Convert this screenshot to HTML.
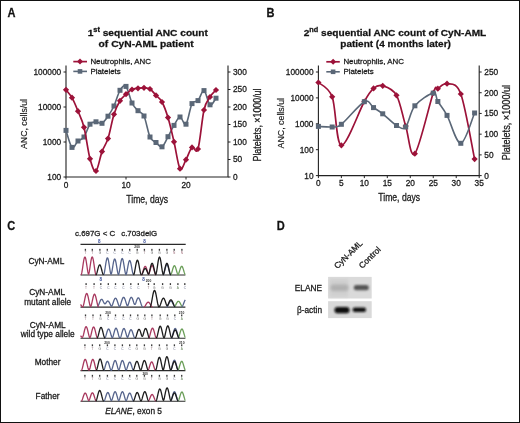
<!DOCTYPE html>
<html><head><meta charset="utf-8"><style>
html,body{margin:0;padding:0;background:#fff;}
body{width:520px;height:423px;overflow:hidden;position:relative;}
svg{position:absolute;left:0;top:0;font-family:"Liberation Sans", sans-serif;will-change:transform;}
.t{stroke:#1a1a1a;stroke-width:0.28px;}
.frame{position:absolute;left:0;top:0;width:518px;height:421px;border:1px solid #111;}
</style></head><body>
<svg width="520" height="423" viewBox="0 0 520 423">
<text class="t" transform="translate(7.4,17.4) scale(0.9,1)" font-size="12.3" font-weight="bold" fill="#111">A</text>
<text class="t" x="147.8" y="36.1" font-size="9.7" font-weight="bold" text-anchor="middle" fill="#111" textLength="120.2" lengthAdjust="spacingAndGlyphs">1<tspan font-size="7" dy="-4.1">st</tspan><tspan dy="4.1"> sequential ANC count</tspan></text>
<text class="t" x="146.1" y="47.2" font-size="9.7" font-weight="bold" text-anchor="middle" fill="#111" textLength="95" lengthAdjust="spacingAndGlyphs">of CyN-AML patient</text>
<path d="M66.0,65.5 V177.0 H228.0 V65.5" fill="none" stroke="#222" stroke-width="1.1"/>
<line x1="63.5" y1="72.00" x2="66.0" y2="72.00" stroke="#222" stroke-width="1"/>
<text x="61.20" y="74.90" font-size="8.30" text-anchor="end" font-weight="normal" fill="#1a1a1a" stroke="#1a1a1a" stroke-width="0.28" >100000</text>
<line x1="63.5" y1="107.00" x2="66.0" y2="107.00" stroke="#222" stroke-width="1"/>
<text x="61.20" y="109.90" font-size="8.30" text-anchor="end" font-weight="normal" fill="#1a1a1a" stroke="#1a1a1a" stroke-width="0.28" >10000</text>
<line x1="63.5" y1="142.00" x2="66.0" y2="142.00" stroke="#222" stroke-width="1"/>
<text x="61.20" y="144.90" font-size="8.30" text-anchor="end" font-weight="normal" fill="#1a1a1a" stroke="#1a1a1a" stroke-width="0.28" >1000</text>
<line x1="63.5" y1="177.00" x2="66.0" y2="177.00" stroke="#222" stroke-width="1"/>
<text x="61.20" y="179.90" font-size="8.30" text-anchor="end" font-weight="normal" fill="#1a1a1a" stroke="#1a1a1a" stroke-width="0.28" >100</text>
<line x1="228.0" y1="72.00" x2="230.5" y2="72.00" stroke="#222" stroke-width="1"/>
<text x="233.00" y="74.90" font-size="8.30" text-anchor="start" font-weight="normal" fill="#1a1a1a" stroke="#1a1a1a" stroke-width="0.28" >300</text>
<line x1="228.0" y1="89.50" x2="230.5" y2="89.50" stroke="#222" stroke-width="1"/>
<text x="233.00" y="92.40" font-size="8.30" text-anchor="start" font-weight="normal" fill="#1a1a1a" stroke="#1a1a1a" stroke-width="0.28" >250</text>
<line x1="228.0" y1="107.00" x2="230.5" y2="107.00" stroke="#222" stroke-width="1"/>
<text x="233.00" y="109.90" font-size="8.30" text-anchor="start" font-weight="normal" fill="#1a1a1a" stroke="#1a1a1a" stroke-width="0.28" >200</text>
<line x1="228.0" y1="124.50" x2="230.5" y2="124.50" stroke="#222" stroke-width="1"/>
<text x="233.00" y="127.40" font-size="8.30" text-anchor="start" font-weight="normal" fill="#1a1a1a" stroke="#1a1a1a" stroke-width="0.28" >150</text>
<line x1="228.0" y1="142.00" x2="230.5" y2="142.00" stroke="#222" stroke-width="1"/>
<text x="233.00" y="144.90" font-size="8.30" text-anchor="start" font-weight="normal" fill="#1a1a1a" stroke="#1a1a1a" stroke-width="0.28" >100</text>
<line x1="228.0" y1="159.50" x2="230.5" y2="159.50" stroke="#222" stroke-width="1"/>
<text x="233.00" y="162.40" font-size="8.30" text-anchor="start" font-weight="normal" fill="#1a1a1a" stroke="#1a1a1a" stroke-width="0.28" >50</text>
<line x1="228.0" y1="177.00" x2="230.5" y2="177.00" stroke="#222" stroke-width="1"/>
<text x="233.00" y="179.90" font-size="8.30" text-anchor="start" font-weight="normal" fill="#1a1a1a" stroke="#1a1a1a" stroke-width="0.28" >0</text>
<line x1="66.00" y1="177.0" x2="66.00" y2="179.5" stroke="#222" stroke-width="1"/>
<text x="66.00" y="188.20" font-size="8.30" text-anchor="middle" font-weight="normal" fill="#1a1a1a" stroke="#1a1a1a" stroke-width="0.28" >0</text>
<line x1="126.00" y1="177.0" x2="126.00" y2="179.5" stroke="#222" stroke-width="1"/>
<text x="126.00" y="188.20" font-size="8.30" text-anchor="middle" font-weight="normal" fill="#1a1a1a" stroke="#1a1a1a" stroke-width="0.28" >10</text>
<line x1="186.00" y1="177.0" x2="186.00" y2="179.5" stroke="#222" stroke-width="1"/>
<text x="186.00" y="188.20" font-size="8.30" text-anchor="middle" font-weight="normal" fill="#1a1a1a" stroke="#1a1a1a" stroke-width="0.28" >20</text>
<text class="t" x="147.2" y="202.7" font-size="10" text-anchor="middle" fill="#1a1a1a" textLength="41.8" lengthAdjust="spacingAndGlyphs">Time, days</text>
<text class="t" transform="translate(27.4,124.0) rotate(-90)" font-size="9.8" text-anchor="middle" fill="#1a1a1a" style="stroke-width:0.18px" textLength="50" lengthAdjust="spacingAndGlyphs">ANC, cells/ul</text>
<text class="t" transform="translate(260.8,125.0) rotate(-90)" font-size="10" text-anchor="middle" fill="#1a1a1a" textLength="73" lengthAdjust="spacingAndGlyphs">Platelets, ×1000/ul</text>
<path d="M66.00,130.40 C67.00,133.23 70.00,145.63 72.00,147.40 C74.00,149.17 76.00,142.73 78.00,141.00 C80.00,139.27 82.00,139.80 84.00,137.00 C86.00,134.20 88.00,126.73 90.00,124.20 C92.00,121.67 94.00,121.95 96.00,121.80 C98.00,121.65 100.00,124.23 102.00,123.30 C104.00,122.37 106.00,119.08 108.00,116.20 C110.00,113.32 112.00,110.32 114.00,106.00 C116.00,101.68 118.00,93.57 120.00,90.30 C122.00,87.03 124.00,84.28 126.00,86.40 C128.00,88.52 130.00,98.95 132.00,103.00 C134.00,107.05 136.00,108.53 138.00,110.70 C140.00,112.87 142.00,111.62 144.00,116.00 C146.00,120.38 148.00,132.58 150.00,137.00 C152.00,141.42 154.00,140.87 156.00,142.50 C158.00,144.13 160.00,147.77 162.00,146.80 C164.00,145.83 166.00,140.27 168.00,136.70 C170.00,133.13 172.00,128.68 174.00,125.40 C176.00,122.12 178.00,117.20 180.00,117.00 C182.00,116.80 184.00,126.43 186.00,124.20 C188.00,121.97 190.00,107.53 192.00,103.60 C194.00,99.67 196.00,102.77 198.00,100.60 C200.00,98.43 202.00,89.90 204.00,90.60 C206.00,91.30 208.00,103.53 210.00,104.80 C212.00,106.07 215.00,99.30 216.00,98.20" fill="none" stroke="#5a6777" stroke-width="1.6"/>
<rect x="63.50" y="127.90" width="5.00" height="5.00" fill="#5a6777"/>
<rect x="69.50" y="144.90" width="5.00" height="5.00" fill="#5a6777"/>
<rect x="75.50" y="138.50" width="5.00" height="5.00" fill="#5a6777"/>
<rect x="81.50" y="134.50" width="5.00" height="5.00" fill="#5a6777"/>
<rect x="87.50" y="121.70" width="5.00" height="5.00" fill="#5a6777"/>
<rect x="93.50" y="119.30" width="5.00" height="5.00" fill="#5a6777"/>
<rect x="99.50" y="120.80" width="5.00" height="5.00" fill="#5a6777"/>
<rect x="105.50" y="113.70" width="5.00" height="5.00" fill="#5a6777"/>
<rect x="111.50" y="103.50" width="5.00" height="5.00" fill="#5a6777"/>
<rect x="117.50" y="87.80" width="5.00" height="5.00" fill="#5a6777"/>
<rect x="123.50" y="83.90" width="5.00" height="5.00" fill="#5a6777"/>
<rect x="129.50" y="100.50" width="5.00" height="5.00" fill="#5a6777"/>
<rect x="135.50" y="108.20" width="5.00" height="5.00" fill="#5a6777"/>
<rect x="141.50" y="113.50" width="5.00" height="5.00" fill="#5a6777"/>
<rect x="147.50" y="134.50" width="5.00" height="5.00" fill="#5a6777"/>
<rect x="153.50" y="140.00" width="5.00" height="5.00" fill="#5a6777"/>
<rect x="159.50" y="144.30" width="5.00" height="5.00" fill="#5a6777"/>
<rect x="165.50" y="134.20" width="5.00" height="5.00" fill="#5a6777"/>
<rect x="171.50" y="122.90" width="5.00" height="5.00" fill="#5a6777"/>
<rect x="177.50" y="114.50" width="5.00" height="5.00" fill="#5a6777"/>
<rect x="183.50" y="121.70" width="5.00" height="5.00" fill="#5a6777"/>
<rect x="189.50" y="101.10" width="5.00" height="5.00" fill="#5a6777"/>
<rect x="195.50" y="98.10" width="5.00" height="5.00" fill="#5a6777"/>
<rect x="201.50" y="88.10" width="5.00" height="5.00" fill="#5a6777"/>
<rect x="207.50" y="102.30" width="5.00" height="5.00" fill="#5a6777"/>
<rect x="213.50" y="95.70" width="5.00" height="5.00" fill="#5a6777"/>
<path d="M66.00,89.80 C67.00,91.12 70.00,94.13 72.00,97.70 C74.00,101.27 76.00,106.27 78.00,111.20 C80.00,116.13 82.00,119.37 84.00,127.30 C86.00,135.23 88.00,151.52 90.00,158.80 C92.00,166.08 94.00,172.20 96.00,171.00 C98.00,169.80 100.00,157.00 102.00,151.60 C104.00,146.20 106.00,144.82 108.00,138.60 C110.00,132.38 112.00,120.60 114.00,114.30 C116.00,108.00 118.00,104.15 120.00,100.80 C122.00,97.45 124.00,96.08 126.00,94.20 C128.00,92.32 130.00,90.48 132.00,89.50 C134.00,88.52 136.00,88.58 138.00,88.30 C140.00,88.02 142.00,87.68 144.00,87.80 C146.00,87.92 148.00,87.73 150.00,89.00 C152.00,90.27 154.00,93.23 156.00,95.40 C158.00,97.57 160.00,98.30 162.00,102.00 C164.00,105.70 166.00,110.97 168.00,117.60 C170.00,124.23 172.00,133.28 174.00,141.80 C176.00,150.32 178.00,165.72 180.00,168.70 C182.00,171.68 184.00,163.25 186.00,159.70 C188.00,156.15 190.00,149.18 192.00,147.40 C194.00,145.62 196.00,155.23 198.00,149.00 C200.00,142.77 202.00,118.67 204.00,110.00 C206.00,101.33 208.00,100.33 210.00,97.00 C212.00,93.67 215.00,91.17 216.00,90.00" fill="none" stroke="#9c1239" stroke-width="1.7"/>
<path d="M66.00,86.70 L69.10,89.80 L66.00,92.90 L62.90,89.80 Z" fill="#9c1239"/>
<path d="M72.00,94.60 L75.10,97.70 L72.00,100.80 L68.90,97.70 Z" fill="#9c1239"/>
<path d="M78.00,108.10 L81.10,111.20 L78.00,114.30 L74.90,111.20 Z" fill="#9c1239"/>
<path d="M84.00,124.20 L87.10,127.30 L84.00,130.40 L80.90,127.30 Z" fill="#9c1239"/>
<path d="M90.00,155.70 L93.10,158.80 L90.00,161.90 L86.90,158.80 Z" fill="#9c1239"/>
<path d="M96.00,167.90 L99.10,171.00 L96.00,174.10 L92.90,171.00 Z" fill="#9c1239"/>
<path d="M102.00,148.50 L105.10,151.60 L102.00,154.70 L98.90,151.60 Z" fill="#9c1239"/>
<path d="M108.00,135.50 L111.10,138.60 L108.00,141.70 L104.90,138.60 Z" fill="#9c1239"/>
<path d="M114.00,111.20 L117.10,114.30 L114.00,117.40 L110.90,114.30 Z" fill="#9c1239"/>
<path d="M120.00,97.70 L123.10,100.80 L120.00,103.90 L116.90,100.80 Z" fill="#9c1239"/>
<path d="M126.00,91.10 L129.10,94.20 L126.00,97.30 L122.90,94.20 Z" fill="#9c1239"/>
<path d="M132.00,86.40 L135.10,89.50 L132.00,92.60 L128.90,89.50 Z" fill="#9c1239"/>
<path d="M138.00,85.20 L141.10,88.30 L138.00,91.40 L134.90,88.30 Z" fill="#9c1239"/>
<path d="M144.00,84.70 L147.10,87.80 L144.00,90.90 L140.90,87.80 Z" fill="#9c1239"/>
<path d="M150.00,85.90 L153.10,89.00 L150.00,92.10 L146.90,89.00 Z" fill="#9c1239"/>
<path d="M156.00,92.30 L159.10,95.40 L156.00,98.50 L152.90,95.40 Z" fill="#9c1239"/>
<path d="M162.00,98.90 L165.10,102.00 L162.00,105.10 L158.90,102.00 Z" fill="#9c1239"/>
<path d="M168.00,114.50 L171.10,117.60 L168.00,120.70 L164.90,117.60 Z" fill="#9c1239"/>
<path d="M174.00,138.70 L177.10,141.80 L174.00,144.90 L170.90,141.80 Z" fill="#9c1239"/>
<path d="M180.00,165.60 L183.10,168.70 L180.00,171.80 L176.90,168.70 Z" fill="#9c1239"/>
<path d="M186.00,156.60 L189.10,159.70 L186.00,162.80 L182.90,159.70 Z" fill="#9c1239"/>
<path d="M192.00,144.30 L195.10,147.40 L192.00,150.50 L188.90,147.40 Z" fill="#9c1239"/>
<path d="M198.00,145.90 L201.10,149.00 L198.00,152.10 L194.90,149.00 Z" fill="#9c1239"/>
<path d="M204.00,106.90 L207.10,110.00 L204.00,113.10 L200.90,110.00 Z" fill="#9c1239"/>
<path d="M210.00,93.90 L213.10,97.00 L210.00,100.10 L206.90,97.00 Z" fill="#9c1239"/>
<path d="M216.00,86.90 L219.10,90.00 L216.00,93.10 L212.90,90.00 Z" fill="#9c1239"/>
<line x1="73.3" y1="61.6" x2="87" y2="61.6" stroke="#9c1239" stroke-width="1.7"/>
<path d="M80.00,58.60 L83.00,61.60 L80.00,64.60 L77.00,61.60 Z" fill="#9c1239"/>
<text x="90.40" y="64.20" font-size="7.90" text-anchor="start" font-weight="normal" fill="#1a1a1a" stroke="#1a1a1a" stroke-width="0.28" >Neutrophils, ANC</text>
<line x1="73.3" y1="71.4" x2="87" y2="71.4" stroke="#5a6777" stroke-width="1.6"/>
<rect x="77.70" y="69.10" width="4.60" height="4.60" fill="#5a6777"/>
<text x="90.40" y="74.00" font-size="7.90" text-anchor="start" font-weight="normal" fill="#1a1a1a" stroke="#1a1a1a" stroke-width="0.28" >Platelets</text>
<text class="t" transform="translate(266.5,17.4) scale(0.9,1)" font-size="12.3" font-weight="bold" fill="#111">B</text>
<text class="t" x="395" y="36.1" font-size="9.7" font-weight="bold" text-anchor="middle" fill="#111" textLength="182.6" lengthAdjust="spacingAndGlyphs">2<tspan font-size="7" dy="-4.1">nd</tspan><tspan dy="4.1"> sequential ANC count of CyN-AML</tspan></text>
<text class="t" x="395.6" y="47.2" font-size="9.7" font-weight="bold" text-anchor="middle" fill="#111" textLength="110.6" lengthAdjust="spacingAndGlyphs">patient (4 months later)</text>
<path d="M318.4,65.5 V175.6 H479.2 V65.5" fill="none" stroke="#222" stroke-width="1.1"/>
<line x1="315.9" y1="72.00" x2="318.4" y2="72.00" stroke="#222" stroke-width="1"/>
<text x="313.50" y="74.90" font-size="8.30" text-anchor="end" font-weight="normal" fill="#1a1a1a" stroke="#1a1a1a" stroke-width="0.28" >100000</text>
<line x1="315.9" y1="97.90" x2="318.4" y2="97.90" stroke="#222" stroke-width="1"/>
<text x="313.50" y="100.80" font-size="8.30" text-anchor="end" font-weight="normal" fill="#1a1a1a" stroke="#1a1a1a" stroke-width="0.28" >10000</text>
<line x1="315.9" y1="123.80" x2="318.4" y2="123.80" stroke="#222" stroke-width="1"/>
<text x="313.50" y="126.70" font-size="8.30" text-anchor="end" font-weight="normal" fill="#1a1a1a" stroke="#1a1a1a" stroke-width="0.28" >1000</text>
<line x1="315.9" y1="149.70" x2="318.4" y2="149.70" stroke="#222" stroke-width="1"/>
<text x="313.50" y="152.60" font-size="8.30" text-anchor="end" font-weight="normal" fill="#1a1a1a" stroke="#1a1a1a" stroke-width="0.28" >100</text>
<line x1="315.9" y1="175.60" x2="318.4" y2="175.60" stroke="#222" stroke-width="1"/>
<text x="313.50" y="178.50" font-size="8.30" text-anchor="end" font-weight="normal" fill="#1a1a1a" stroke="#1a1a1a" stroke-width="0.28" >10</text>
<line x1="479.2" y1="72.00" x2="481.7" y2="72.00" stroke="#222" stroke-width="1"/>
<text x="484.30" y="74.90" font-size="8.30" text-anchor="start" font-weight="normal" fill="#1a1a1a" stroke="#1a1a1a" stroke-width="0.28" >250</text>
<line x1="479.2" y1="92.72" x2="481.7" y2="92.72" stroke="#222" stroke-width="1"/>
<text x="484.30" y="95.62" font-size="8.30" text-anchor="start" font-weight="normal" fill="#1a1a1a" stroke="#1a1a1a" stroke-width="0.28" >200</text>
<line x1="479.2" y1="113.44" x2="481.7" y2="113.44" stroke="#222" stroke-width="1"/>
<text x="484.30" y="116.34" font-size="8.30" text-anchor="start" font-weight="normal" fill="#1a1a1a" stroke="#1a1a1a" stroke-width="0.28" >150</text>
<line x1="479.2" y1="134.16" x2="481.7" y2="134.16" stroke="#222" stroke-width="1"/>
<text x="484.30" y="137.06" font-size="8.30" text-anchor="start" font-weight="normal" fill="#1a1a1a" stroke="#1a1a1a" stroke-width="0.28" >100</text>
<line x1="479.2" y1="154.88" x2="481.7" y2="154.88" stroke="#222" stroke-width="1"/>
<text x="484.30" y="157.78" font-size="8.30" text-anchor="start" font-weight="normal" fill="#1a1a1a" stroke="#1a1a1a" stroke-width="0.28" >50</text>
<line x1="479.2" y1="175.60" x2="481.7" y2="175.60" stroke="#222" stroke-width="1"/>
<text x="484.30" y="178.50" font-size="8.30" text-anchor="start" font-weight="normal" fill="#1a1a1a" stroke="#1a1a1a" stroke-width="0.28" >0</text>
<line x1="318.40" y1="175.6" x2="318.40" y2="178.1" stroke="#222" stroke-width="1"/>
<text x="318.40" y="186.40" font-size="8.30" text-anchor="middle" font-weight="normal" fill="#1a1a1a" stroke="#1a1a1a" stroke-width="0.28" >0</text>
<line x1="341.37" y1="175.6" x2="341.37" y2="178.1" stroke="#222" stroke-width="1"/>
<text x="341.37" y="186.40" font-size="8.30" text-anchor="middle" font-weight="normal" fill="#1a1a1a" stroke="#1a1a1a" stroke-width="0.28" >5</text>
<line x1="364.34" y1="175.6" x2="364.34" y2="178.1" stroke="#222" stroke-width="1"/>
<text x="364.34" y="186.40" font-size="8.30" text-anchor="middle" font-weight="normal" fill="#1a1a1a" stroke="#1a1a1a" stroke-width="0.28" >10</text>
<line x1="387.31" y1="175.6" x2="387.31" y2="178.1" stroke="#222" stroke-width="1"/>
<text x="387.31" y="186.40" font-size="8.30" text-anchor="middle" font-weight="normal" fill="#1a1a1a" stroke="#1a1a1a" stroke-width="0.28" >15</text>
<line x1="410.28" y1="175.6" x2="410.28" y2="178.1" stroke="#222" stroke-width="1"/>
<text x="410.28" y="186.40" font-size="8.30" text-anchor="middle" font-weight="normal" fill="#1a1a1a" stroke="#1a1a1a" stroke-width="0.28" >20</text>
<line x1="433.25" y1="175.6" x2="433.25" y2="178.1" stroke="#222" stroke-width="1"/>
<text x="433.25" y="186.40" font-size="8.30" text-anchor="middle" font-weight="normal" fill="#1a1a1a" stroke="#1a1a1a" stroke-width="0.28" >25</text>
<line x1="456.22" y1="175.6" x2="456.22" y2="178.1" stroke="#222" stroke-width="1"/>
<text x="456.22" y="186.40" font-size="8.30" text-anchor="middle" font-weight="normal" fill="#1a1a1a" stroke="#1a1a1a" stroke-width="0.28" >30</text>
<line x1="479.19" y1="175.6" x2="479.19" y2="178.1" stroke="#222" stroke-width="1"/>
<text x="479.19" y="186.40" font-size="8.30" text-anchor="middle" font-weight="normal" fill="#1a1a1a" stroke="#1a1a1a" stroke-width="0.28" >35</text>
<text class="t" x="399.2" y="200.7" font-size="10" text-anchor="middle" fill="#1a1a1a" textLength="41.8" lengthAdjust="spacingAndGlyphs">Time, days</text>
<text class="t" transform="translate(283.9,123.2) rotate(-90)" font-size="9.8" text-anchor="middle" fill="#1a1a1a" style="stroke-width:0.18px" textLength="50.5" lengthAdjust="spacingAndGlyphs">ANC, cells/ul</text>
<text class="t" transform="translate(509.8,122.6) rotate(-90)" font-size="10" text-anchor="middle" fill="#1a1a1a" textLength="75.5" lengthAdjust="spacingAndGlyphs">Platelets, ×1000/ul</text>
<path d="M318.40,82.50 C320.70,84.88 328.35,86.33 332.18,96.80 C336.01,107.27 336.01,144.52 341.37,145.30 C346.73,146.08 358.98,110.98 364.34,101.50 C369.70,92.02 370.47,91.02 373.53,88.40 C376.59,85.78 378.89,84.65 382.72,85.80 C386.54,86.95 392.67,88.60 396.50,95.30 C400.33,102.00 402.62,116.27 405.69,126.00 C408.75,135.73 410.28,159.20 414.87,153.70 C419.47,148.20 429.42,103.83 433.25,93.00 C437.08,82.17 435.55,90.25 437.84,88.70 C440.14,87.15 443.20,82.82 447.03,83.70 C450.86,84.58 456.22,81.43 460.81,94.00 C465.41,106.57 472.30,148.25 474.60,159.10" fill="none" stroke="#9c1239" stroke-width="1.7"/>
<path d="M318.40,79.40 L321.50,82.50 L318.40,85.60 L315.30,82.50 Z" fill="#9c1239"/>
<path d="M332.18,93.70 L335.28,96.80 L332.18,99.90 L329.08,96.80 Z" fill="#9c1239"/>
<path d="M341.37,142.20 L344.47,145.30 L341.37,148.40 L338.27,145.30 Z" fill="#9c1239"/>
<path d="M364.34,98.40 L367.44,101.50 L364.34,104.60 L361.24,101.50 Z" fill="#9c1239"/>
<path d="M373.53,85.30 L376.63,88.40 L373.53,91.50 L370.43,88.40 Z" fill="#9c1239"/>
<path d="M382.72,82.70 L385.82,85.80 L382.72,88.90 L379.62,85.80 Z" fill="#9c1239"/>
<path d="M396.50,92.20 L399.60,95.30 L396.50,98.40 L393.40,95.30 Z" fill="#9c1239"/>
<path d="M405.69,122.90 L408.79,126.00 L405.69,129.10 L402.59,126.00 Z" fill="#9c1239"/>
<path d="M414.87,150.60 L417.97,153.70 L414.87,156.80 L411.77,153.70 Z" fill="#9c1239"/>
<path d="M433.25,89.90 L436.35,93.00 L433.25,96.10 L430.15,93.00 Z" fill="#9c1239"/>
<path d="M437.84,85.60 L440.94,88.70 L437.84,91.80 L434.74,88.70 Z" fill="#9c1239"/>
<path d="M447.03,80.60 L450.13,83.70 L447.03,86.80 L443.93,83.70 Z" fill="#9c1239"/>
<path d="M460.81,90.90 L463.91,94.00 L460.81,97.10 L457.71,94.00 Z" fill="#9c1239"/>
<path d="M474.60,156.00 L477.70,159.10 L474.60,162.20 L471.50,159.10 Z" fill="#9c1239"/>
<path d="M318.40,126.40 C320.70,126.50 328.35,127.35 332.18,127.00 C336.01,126.65 336.01,128.52 341.37,124.30 C346.73,120.08 358.98,104.48 364.34,101.70 C369.70,98.92 370.47,105.58 373.53,107.60 C376.59,109.62 378.89,110.82 382.72,113.80 C386.54,116.78 392.67,123.30 396.50,125.50 C400.33,127.70 402.62,130.28 405.69,127.00 C408.75,123.72 410.28,111.45 414.87,105.80 C419.47,100.15 429.42,93.82 433.25,93.10 C437.08,92.38 435.55,97.78 437.84,101.50 C440.14,105.22 443.20,108.43 447.03,115.40 C450.86,122.37 456.22,143.70 460.81,143.30 C465.41,142.90 472.30,118.05 474.60,113.00" fill="none" stroke="#5a6777" stroke-width="1.6"/>
<rect x="315.90" y="123.90" width="5.00" height="5.00" fill="#5a6777"/>
<rect x="329.68" y="124.50" width="5.00" height="5.00" fill="#5a6777"/>
<rect x="338.87" y="121.80" width="5.00" height="5.00" fill="#5a6777"/>
<rect x="361.84" y="99.20" width="5.00" height="5.00" fill="#5a6777"/>
<rect x="371.03" y="105.10" width="5.00" height="5.00" fill="#5a6777"/>
<rect x="380.22" y="111.30" width="5.00" height="5.00" fill="#5a6777"/>
<rect x="394.00" y="123.00" width="5.00" height="5.00" fill="#5a6777"/>
<rect x="403.19" y="124.50" width="5.00" height="5.00" fill="#5a6777"/>
<rect x="412.37" y="103.30" width="5.00" height="5.00" fill="#5a6777"/>
<rect x="430.75" y="90.60" width="5.00" height="5.00" fill="#5a6777"/>
<rect x="435.34" y="99.00" width="5.00" height="5.00" fill="#5a6777"/>
<rect x="444.53" y="112.90" width="5.00" height="5.00" fill="#5a6777"/>
<rect x="458.31" y="140.80" width="5.00" height="5.00" fill="#5a6777"/>
<rect x="472.10" y="110.50" width="5.00" height="5.00" fill="#5a6777"/>
<line x1="326.3" y1="61.8" x2="339.8" y2="61.8" stroke="#9c1239" stroke-width="1.7"/>
<path d="M333.10,58.80 L336.10,61.80 L333.10,64.80 L330.10,61.80 Z" fill="#9c1239"/>
<text x="343.40" y="64.40" font-size="7.90" text-anchor="start" font-weight="normal" fill="#1a1a1a" stroke="#1a1a1a" stroke-width="0.28" >Neutrophils, ANC</text>
<line x1="326.3" y1="71.8" x2="339.8" y2="71.8" stroke="#5a6777" stroke-width="1.6"/>
<rect x="330.80" y="69.50" width="4.60" height="4.60" fill="#5a6777"/>
<text x="343.40" y="74.40" font-size="7.90" text-anchor="start" font-weight="normal" fill="#1a1a1a" stroke="#1a1a1a" stroke-width="0.28" >Platelets</text>
<text class="t" transform="translate(7.2,230.1) scale(0.9,1)" font-size="12.3" font-weight="bold" fill="#111">C</text>
<text x="75.00" y="236.40" font-size="7.90" text-anchor="start" font-weight="normal" fill="#1a1a1a" stroke="#1a1a1a" stroke-width="0.28" >c.697G &lt; C</text>
<text x="121.20" y="236.40" font-size="7.90" text-anchor="start" font-weight="normal" fill="#1a1a1a" stroke="#1a1a1a" stroke-width="0.28" >c.703delG</text>
<text x="46.40" y="264.10" font-size="8.30" text-anchor="middle" font-weight="normal" fill="#1a1a1a" stroke="#1a1a1a" stroke-width="0.28" >CyN-AML</text>
<text x="47.20" y="295.40" font-size="8.30" text-anchor="middle" font-weight="normal" fill="#1a1a1a" stroke="#1a1a1a" stroke-width="0.28" >CyN-AML</text>
<text x="47.70" y="305.40" font-size="8.30" text-anchor="middle" font-weight="normal" fill="#1a1a1a" stroke="#1a1a1a" stroke-width="0.28" >mutant allele</text>
<text x="47.70" y="327.80" font-size="8.30" text-anchor="middle" font-weight="normal" fill="#1a1a1a" stroke="#1a1a1a" stroke-width="0.28" >CyN-AML</text>
<text x="47.70" y="336.60" font-size="8.30" text-anchor="middle" font-weight="normal" fill="#1a1a1a" stroke="#1a1a1a" stroke-width="0.28" >wild type allele</text>
<text x="47.60" y="365.35" font-size="8.30" text-anchor="middle" font-weight="normal" fill="#1a1a1a" stroke="#1a1a1a" stroke-width="0.28" >Mother</text>
<text x="47.60" y="399.45" font-size="8.30" text-anchor="middle" font-weight="normal" fill="#1a1a1a" stroke="#1a1a1a" stroke-width="0.28" >Father</text>
<text class="t" x="105.2" y="413.7" font-size="8.3" fill="#1a1a1a"><tspan font-style="italic">ELANE</tspan>, exon 5</text>
<line x1="80.5" y1="244.3" x2="185.7" y2="244.3" stroke="#2a2a2a" stroke-width="1.3"/>
<text x="99.20" y="242.60" font-size="4.6" font-weight="bold" text-anchor="middle" fill="#3a4f9a">8</text>
<text x="144.60" y="242.60" font-size="4.6" font-weight="bold" text-anchor="middle" fill="#3a4f9a">8</text>
<text x="100.80" y="280.90" font-size="4.6" font-weight="bold" text-anchor="middle" fill="#3a4f9a">8</text>
<text x="143.60" y="280.90" font-size="4.6" font-weight="bold" text-anchor="middle" fill="#3a4f9a">8</text>
<text x="137.10" y="248.00" font-size="3.3" font-weight="bold" text-anchor="middle" fill="#333">200</text>
<text x="148.50" y="282.40" font-size="3.3" font-weight="bold" text-anchor="middle" fill="#333">200</text>
<text x="108.00" y="314.00" font-size="3.3" font-weight="bold" text-anchor="middle" fill="#333">200</text>
<text x="181.60" y="313.80" font-size="3.3" font-weight="bold" text-anchor="middle" fill="#333">210</text>
<text x="107.00" y="343.70" font-size="3.3" font-weight="bold" text-anchor="middle" fill="#333">200</text>
<text x="181.80" y="343.70" font-size="3.3" font-weight="bold" text-anchor="middle" fill="#333">210</text>
<text x="145.20" y="374.50" font-size="3.3" font-weight="bold" text-anchor="middle" fill="#333">200</text>
<rect x="84.75" y="248.85" width="1.3" height="1.9" fill="#3a3a3a"/>
<text x="85.40" y="254.20" font-size="3.2" text-anchor="middle" fill="#8a6a74">T</text>
<rect x="91.65" y="248.85" width="1.3" height="1.9" fill="#3a3a3a"/>
<text x="92.30" y="254.20" font-size="3.2" text-anchor="middle" fill="#8a6a74">T</text>
<rect x="99.25" y="248.85" width="1.3" height="1.9" fill="#3a3a3a"/>
<text x="99.90" y="254.20" font-size="3.2" text-anchor="middle" fill="#666">G</text>
<rect x="106.65" y="248.85" width="1.3" height="1.9" fill="#3a3a3a"/>
<text x="107.30" y="254.20" font-size="3.2" text-anchor="middle" fill="#6e7390">C</text>
<rect x="114.05" y="248.85" width="1.3" height="1.9" fill="#3a3a3a"/>
<text x="114.70" y="254.20" font-size="3.2" text-anchor="middle" fill="#6e7390">C</text>
<rect x="121.65" y="248.85" width="1.3" height="1.9" fill="#3a3a3a"/>
<text x="122.30" y="254.20" font-size="3.2" text-anchor="middle" fill="#6e7390">C</text>
<rect x="129.05" y="248.85" width="1.3" height="1.9" fill="#3a3a3a"/>
<text x="129.70" y="254.20" font-size="3.2" text-anchor="middle" fill="#6e7390">C</text>
<rect x="136.55" y="248.85" width="1.3" height="1.9" fill="#3a3a3a"/>
<text x="137.20" y="254.20" font-size="3.2" text-anchor="middle" fill="#666">G</text>
<rect x="143.75" y="248.85" width="1.3" height="1.9" fill="#3a3a3a"/>
<text x="144.40" y="254.20" font-size="3.2" text-anchor="middle" fill="#8a6a74">T</text>
<rect x="151.25" y="248.85" width="1.3" height="1.9" fill="#3a3a3a"/>
<text x="151.90" y="254.20" font-size="3.2" text-anchor="middle" fill="#666">G</text>
<rect x="158.75" y="248.85" width="1.3" height="1.9" fill="#3a3a3a"/>
<text x="159.40" y="254.20" font-size="3.2" text-anchor="middle" fill="#666">G</text>
<rect x="166.25" y="248.85" width="1.3" height="1.9" fill="#3a3a3a"/>
<text x="166.90" y="254.20" font-size="3.2" text-anchor="middle" fill="#666">G</text>
<rect x="173.55" y="248.85" width="1.3" height="1.9" fill="#3a3a3a"/>
<text x="174.20" y="254.20" font-size="3.2" text-anchor="middle" fill="#a0707e">N</text>
<rect x="181.25" y="248.85" width="1.3" height="1.9" fill="#3a3a3a"/>
<text x="181.90" y="254.20" font-size="3.2" text-anchor="middle" fill="#a0707e">N</text>
<rect x="85.45" y="283.15" width="1.3" height="1.9" fill="#3a3a3a"/>
<text x="86.10" y="288.70" font-size="3.2" text-anchor="middle" fill="#8a6a74">T</text>
<rect x="93.45" y="283.15" width="1.3" height="1.9" fill="#3a3a3a"/>
<text x="94.10" y="288.70" font-size="3.2" text-anchor="middle" fill="#8a6a74">T</text>
<rect x="100.15" y="283.15" width="1.3" height="1.9" fill="#3a3a3a"/>
<text x="100.80" y="288.70" font-size="3.2" text-anchor="middle" fill="#6e7390">C</text>
<rect x="107.65" y="283.15" width="1.3" height="1.9" fill="#3a3a3a"/>
<text x="108.30" y="288.70" font-size="3.2" text-anchor="middle" fill="#6e7390">C</text>
<rect x="114.85" y="283.15" width="1.3" height="1.9" fill="#3a3a3a"/>
<text x="115.50" y="288.70" font-size="3.2" text-anchor="middle" fill="#6e7390">C</text>
<rect x="122.65" y="283.15" width="1.3" height="1.9" fill="#3a3a3a"/>
<text x="123.30" y="288.70" font-size="3.2" text-anchor="middle" fill="#6e7390">C</text>
<rect x="130.15" y="283.15" width="1.3" height="1.9" fill="#3a3a3a"/>
<text x="130.80" y="288.70" font-size="3.2" text-anchor="middle" fill="#6e7390">C</text>
<rect x="137.65" y="283.15" width="1.3" height="1.9" fill="#3a3a3a"/>
<text x="138.30" y="288.70" font-size="3.2" text-anchor="middle" fill="#6e7390">C</text>
<rect x="147.85" y="283.15" width="1.3" height="1.9" fill="#3a3a3a"/>
<text x="148.50" y="288.70" font-size="3.2" text-anchor="middle" fill="#8a6a74">T</text>
<rect x="153.55" y="283.15" width="1.3" height="1.9" fill="#3a3a3a"/>
<text x="154.20" y="288.70" font-size="3.2" text-anchor="middle" fill="#666">G</text>
<rect x="161.95" y="283.15" width="1.3" height="1.9" fill="#3a3a3a"/>
<text x="162.60" y="288.70" font-size="3.2" text-anchor="middle" fill="#666">G</text>
<rect x="169.75" y="283.15" width="1.3" height="1.9" fill="#3a3a3a"/>
<text x="170.40" y="288.70" font-size="3.2" text-anchor="middle" fill="#666">G</text>
<rect x="177.25" y="283.15" width="1.3" height="1.9" fill="#3a3a3a"/>
<text x="177.90" y="288.70" font-size="3.2" text-anchor="middle" fill="#6e8a66">A</text>
<rect x="184.15" y="283.15" width="1.3" height="1.9" fill="#3a3a3a"/>
<text x="184.80" y="288.70" font-size="3.2" text-anchor="middle" fill="#6e7390">C</text>
<rect x="84.85" y="314.45" width="1.3" height="1.9" fill="#3a3a3a"/>
<text x="85.50" y="320.20" font-size="3.2" text-anchor="middle" fill="#8a6a74">T</text>
<rect x="92.35" y="314.45" width="1.3" height="1.9" fill="#3a3a3a"/>
<text x="93.00" y="320.20" font-size="3.2" text-anchor="middle" fill="#8a6a74">T</text>
<rect x="99.85" y="314.45" width="1.3" height="1.9" fill="#3a3a3a"/>
<text x="100.50" y="320.20" font-size="3.2" text-anchor="middle" fill="#666">G</text>
<rect x="107.55" y="314.45" width="1.3" height="1.9" fill="#3a3a3a"/>
<text x="108.20" y="320.20" font-size="3.2" text-anchor="middle" fill="#6e7390">C</text>
<rect x="114.85" y="314.45" width="1.3" height="1.9" fill="#3a3a3a"/>
<text x="115.50" y="320.20" font-size="3.2" text-anchor="middle" fill="#6e7390">C</text>
<rect x="122.65" y="314.45" width="1.3" height="1.9" fill="#3a3a3a"/>
<text x="123.30" y="320.20" font-size="3.2" text-anchor="middle" fill="#6e7390">C</text>
<rect x="129.85" y="314.45" width="1.3" height="1.9" fill="#3a3a3a"/>
<text x="130.50" y="320.20" font-size="3.2" text-anchor="middle" fill="#6e7390">C</text>
<rect x="137.15" y="314.45" width="1.3" height="1.9" fill="#3a3a3a"/>
<text x="137.80" y="320.20" font-size="3.2" text-anchor="middle" fill="#666">G</text>
<rect x="144.15" y="314.45" width="1.3" height="1.9" fill="#3a3a3a"/>
<text x="144.80" y="320.20" font-size="3.2" text-anchor="middle" fill="#666">G</text>
<rect x="151.25" y="314.45" width="1.3" height="1.9" fill="#3a3a3a"/>
<text x="151.90" y="320.20" font-size="3.2" text-anchor="middle" fill="#8a6a74">T</text>
<rect x="159.55" y="314.45" width="1.3" height="1.9" fill="#3a3a3a"/>
<text x="160.20" y="320.20" font-size="3.2" text-anchor="middle" fill="#666">G</text>
<rect x="166.85" y="314.45" width="1.3" height="1.9" fill="#3a3a3a"/>
<text x="167.50" y="320.20" font-size="3.2" text-anchor="middle" fill="#666">G</text>
<rect x="174.15" y="314.45" width="1.3" height="1.9" fill="#3a3a3a"/>
<text x="174.80" y="320.20" font-size="3.2" text-anchor="middle" fill="#6e7390">C</text>
<rect x="181.05" y="314.45" width="1.3" height="1.9" fill="#3a3a3a"/>
<text x="181.70" y="320.20" font-size="3.2" text-anchor="middle" fill="#6e8a66">A</text>
<rect x="84.25" y="344.35" width="1.3" height="1.9" fill="#3a3a3a"/>
<text x="84.90" y="349.90" font-size="3.2" text-anchor="middle" fill="#8a6a74">T</text>
<rect x="91.75" y="344.35" width="1.3" height="1.9" fill="#3a3a3a"/>
<text x="92.40" y="349.90" font-size="3.2" text-anchor="middle" fill="#8a6a74">T</text>
<rect x="99.05" y="344.35" width="1.3" height="1.9" fill="#3a3a3a"/>
<text x="99.70" y="349.90" font-size="3.2" text-anchor="middle" fill="#666">G</text>
<rect x="106.75" y="344.35" width="1.3" height="1.9" fill="#3a3a3a"/>
<text x="107.40" y="349.90" font-size="3.2" text-anchor="middle" fill="#6e7390">C</text>
<rect x="114.25" y="344.35" width="1.3" height="1.9" fill="#3a3a3a"/>
<text x="114.90" y="349.90" font-size="3.2" text-anchor="middle" fill="#6e7390">C</text>
<rect x="121.75" y="344.35" width="1.3" height="1.9" fill="#3a3a3a"/>
<text x="122.40" y="349.90" font-size="3.2" text-anchor="middle" fill="#6e7390">C</text>
<rect x="129.05" y="344.35" width="1.3" height="1.9" fill="#3a3a3a"/>
<text x="129.70" y="349.90" font-size="3.2" text-anchor="middle" fill="#6e7390">C</text>
<rect x="136.15" y="344.35" width="1.3" height="1.9" fill="#3a3a3a"/>
<text x="136.80" y="349.90" font-size="3.2" text-anchor="middle" fill="#666">G</text>
<rect x="143.75" y="344.35" width="1.3" height="1.9" fill="#3a3a3a"/>
<text x="144.40" y="349.90" font-size="3.2" text-anchor="middle" fill="#666">G</text>
<rect x="151.05" y="344.35" width="1.3" height="1.9" fill="#3a3a3a"/>
<text x="151.70" y="349.90" font-size="3.2" text-anchor="middle" fill="#8a6a74">T</text>
<rect x="158.75" y="344.35" width="1.3" height="1.9" fill="#3a3a3a"/>
<text x="159.40" y="349.90" font-size="3.2" text-anchor="middle" fill="#666">G</text>
<rect x="166.25" y="344.35" width="1.3" height="1.9" fill="#3a3a3a"/>
<text x="166.90" y="349.90" font-size="3.2" text-anchor="middle" fill="#666">G</text>
<rect x="173.75" y="344.35" width="1.3" height="1.9" fill="#3a3a3a"/>
<text x="174.40" y="349.90" font-size="3.2" text-anchor="middle" fill="#6e7390">C</text>
<rect x="181.05" y="344.35" width="1.3" height="1.9" fill="#3a3a3a"/>
<text x="181.70" y="349.90" font-size="3.2" text-anchor="middle" fill="#6e8a66">A</text>
<rect x="84.25" y="374.85" width="1.3" height="1.9" fill="#3a3a3a"/>
<text x="84.90" y="380.40" font-size="3.2" text-anchor="middle" fill="#8a6a74">T</text>
<rect x="91.75" y="374.85" width="1.3" height="1.9" fill="#3a3a3a"/>
<text x="92.40" y="380.40" font-size="3.2" text-anchor="middle" fill="#8a6a74">T</text>
<rect x="99.05" y="374.85" width="1.3" height="1.9" fill="#3a3a3a"/>
<text x="99.70" y="380.40" font-size="3.2" text-anchor="middle" fill="#666">G</text>
<rect x="106.75" y="374.85" width="1.3" height="1.9" fill="#3a3a3a"/>
<text x="107.40" y="380.40" font-size="3.2" text-anchor="middle" fill="#6e7390">C</text>
<rect x="114.25" y="374.85" width="1.3" height="1.9" fill="#3a3a3a"/>
<text x="114.90" y="380.40" font-size="3.2" text-anchor="middle" fill="#6e7390">C</text>
<rect x="121.75" y="374.85" width="1.3" height="1.9" fill="#3a3a3a"/>
<text x="122.40" y="380.40" font-size="3.2" text-anchor="middle" fill="#6e7390">C</text>
<rect x="129.05" y="374.85" width="1.3" height="1.9" fill="#3a3a3a"/>
<text x="129.70" y="380.40" font-size="3.2" text-anchor="middle" fill="#6e7390">C</text>
<rect x="136.15" y="374.85" width="1.3" height="1.9" fill="#3a3a3a"/>
<text x="136.80" y="380.40" font-size="3.2" text-anchor="middle" fill="#666">G</text>
<rect x="143.75" y="374.85" width="1.3" height="1.9" fill="#3a3a3a"/>
<text x="144.40" y="380.40" font-size="3.2" text-anchor="middle" fill="#666">G</text>
<rect x="151.05" y="374.85" width="1.3" height="1.9" fill="#3a3a3a"/>
<text x="151.70" y="380.40" font-size="3.2" text-anchor="middle" fill="#8a6a74">T</text>
<rect x="158.75" y="374.85" width="1.3" height="1.9" fill="#3a3a3a"/>
<text x="159.40" y="380.40" font-size="3.2" text-anchor="middle" fill="#666">G</text>
<rect x="166.25" y="374.85" width="1.3" height="1.9" fill="#3a3a3a"/>
<text x="166.90" y="380.40" font-size="3.2" text-anchor="middle" fill="#666">G</text>
<rect x="173.75" y="374.85" width="1.3" height="1.9" fill="#3a3a3a"/>
<text x="174.40" y="380.40" font-size="3.2" text-anchor="middle" fill="#6e7390">C</text>
<rect x="181.05" y="374.85" width="1.3" height="1.9" fill="#3a3a3a"/>
<text x="181.70" y="380.40" font-size="3.2" text-anchor="middle" fill="#6e8a66">A</text>
<line x1="80.5" y1="275.00" x2="185.4" y2="275.00" stroke="#2a2a2a" stroke-width="1.1"/>
<path d="M170.50,275.00 L170.75,274.78 L171.00,274.43 L171.25,273.92 L171.50,273.28 L171.75,272.52 L172.00,271.69 L172.25,270.81 L172.50,269.90 L172.75,269.02 L173.00,268.19 L173.25,267.43 L173.50,266.79 L173.75,266.28 L174.00,265.92 L174.25,265.73 L174.50,265.71 L174.75,265.87 L175.00,266.20 L175.25,266.68 L175.50,267.29 L175.75,268.03 L176.00,268.85 L176.25,269.73 L176.50,270.63 L176.75,271.52 L177.00,272.36 L177.25,273.13 L177.50,273.80 L177.75,274.32 L178.00,274.57 L178.25,274.49 L178.50,274.09 L178.75,273.52 L179.00,272.83 L179.25,272.06 L179.50,271.24 L179.75,270.40 L180.00,269.57 L180.25,268.78 L180.50,268.05 L180.75,267.43 L181.00,266.93 L181.25,266.56 L181.50,266.35 L181.75,266.30 L182.00,266.42 L182.25,266.69 L182.50,267.11 L182.75,267.67 L183.00,268.33 L183.25,269.09 L183.50,269.90 L183.75,270.74 L184.00,271.58 L184.25,272.38 L184.50,273.12 L184.75,273.76 L185.00,274.29 L185.25,274.68" fill="none" stroke="#6a9e58" stroke-width="1.3" stroke-linejoin="round"/>
<path d="M103.50,275.00 L103.75,274.59 L104.00,273.94 L104.25,273.00 L104.50,271.81 L104.75,270.42 L105.00,268.88 L105.25,267.24 L105.50,265.58 L105.75,263.94 L106.00,262.40 L106.25,261.01 L106.50,259.81 L106.75,258.87 L107.00,258.21 L107.25,257.86 L107.50,257.83 L107.75,258.12 L108.00,258.72 L108.25,259.61 L108.50,260.75 L108.75,262.11 L109.00,263.62 L109.25,265.25 L109.50,266.91 L109.75,268.56 L110.00,270.12 L110.25,271.55 L110.50,272.78 L110.75,273.75 L111.00,274.20 L111.25,274.06 L111.50,273.33 L111.75,272.27 L112.00,271.01 L112.25,269.60 L112.50,268.09 L112.75,266.54 L113.00,265.01 L113.25,263.55 L113.50,262.23 L113.75,261.08 L114.00,260.15 L114.25,259.48 L114.50,259.10 L114.75,259.01 L115.00,259.22 L115.25,259.72 L115.50,260.49 L115.75,261.51 L116.00,262.74 L116.25,264.13 L116.50,265.62 L116.75,267.16 L117.00,268.70 L117.25,270.18 L117.50,271.54 L117.75,272.72 L118.00,273.69 L118.25,274.39 L118.50,274.56 L118.75,274.13 L119.00,273.28 L119.25,272.19 L119.50,270.89 L119.75,269.43 L120.00,267.88 L120.25,266.28 L120.50,264.70 L120.75,263.20 L121.00,261.83 L121.25,260.64 L121.50,259.69 L121.75,259.00 L122.00,258.60 L122.25,258.51 L122.50,258.72 L122.75,259.24 L123.00,260.04 L123.25,261.09 L123.50,262.36 L123.75,263.79 L124.00,265.33 L124.25,266.92 L124.50,268.51 L124.75,270.03 L125.00,271.43 L125.25,272.65 L125.50,273.65 L125.75,274.37 L126.00,274.59 L126.25,274.24 L126.50,273.49 L126.75,272.53 L127.00,271.38 L127.25,270.11 L127.50,268.74 L127.75,267.34 L128.00,265.95 L128.25,264.63 L128.50,263.42 L128.75,262.38 L129.00,261.54 L129.25,260.94 L129.50,260.59 L129.75,260.51 L130.00,260.70 L130.25,261.15 L130.50,261.85 L130.75,262.78 L131.00,263.89 L131.25,265.14 L131.50,266.50 L131.75,267.90 L132.00,269.29 L132.25,270.63 L132.50,271.86 L132.75,272.93 L133.00,273.81 L133.25,274.47 L133.50,275.00" fill="none" stroke="#56648c" stroke-width="1.3" stroke-linejoin="round"/>
<path d="M163.00,275.00 L163.25,274.75 L163.50,274.35 L163.75,273.78 L164.00,273.05 L164.25,272.20 L164.50,271.26 L164.75,270.26 L165.00,269.25 L165.25,268.25 L165.50,267.31 L165.75,266.46 L166.00,265.73 L166.25,265.15 L166.50,264.75 L166.75,264.54 L167.00,264.52 L167.25,264.69 L167.50,265.06 L167.75,265.60 L168.00,266.30 L168.25,267.13 L168.50,268.05 L168.75,269.05 L169.00,270.06 L169.25,271.07 L169.50,272.02 L169.75,272.89 L170.00,273.64 L170.25,274.25 L170.50,274.69 L170.75,275.00" fill="none" stroke="#56648c" stroke-width="1.3" stroke-linejoin="round"/>
<path d="M81.00,275.00 L81.25,274.58 L81.50,273.89 L81.75,272.90 L82.00,271.66 L82.25,270.21 L82.50,268.59 L82.75,266.88 L83.00,265.14 L83.25,263.43 L83.50,261.81 L83.75,260.35 L84.00,259.11 L84.25,258.12 L84.50,257.43 L84.75,257.06 L85.00,257.03 L85.25,257.33 L85.50,257.96 L85.75,258.89 L86.00,260.09 L86.25,261.51 L86.50,263.09 L86.75,264.79 L87.00,266.53 L87.25,268.26 L87.50,269.89 L87.75,271.39 L88.00,272.68 L88.25,273.69 L88.50,274.14 L88.75,273.95 L89.00,273.12 L89.25,271.93 L89.50,270.51 L89.75,268.93 L90.00,267.23 L90.25,265.49 L90.50,263.76 L90.75,262.12 L91.00,260.63 L91.25,259.34 L91.50,258.30 L91.75,257.54 L92.00,257.11 L92.25,257.01 L92.50,257.24 L92.75,257.81 L93.00,258.68 L93.25,259.83 L93.50,261.21 L93.75,262.77 L94.00,264.45 L94.25,266.19 L94.50,267.92 L94.75,269.58 L95.00,271.10 L95.25,272.44 L95.50,273.53 L95.75,274.34 L96.00,274.84 L96.25,275.00" fill="none" stroke="#a8385e" stroke-width="1.3" stroke-linejoin="round"/>
<path d="M141.25,275.00 L141.50,274.84 L141.75,274.55 L142.00,274.10 L142.25,273.53 L142.50,272.86 L142.75,272.10 L143.00,271.29 L143.25,270.45 L143.50,269.63 L143.75,268.85 L144.00,268.13 L144.25,267.52 L144.50,267.02 L144.75,266.66 L145.00,266.45 L145.25,266.40 L145.50,266.52 L145.75,266.79 L146.00,267.20 L146.25,267.75 L146.50,268.41 L146.75,269.15 L147.00,269.96 L147.25,270.79 L147.50,271.62 L147.75,272.41 L148.00,273.14 L148.25,273.72 L148.50,274.01 L148.75,274.01 L149.00,273.69 L149.25,273.09 L149.50,272.31 L149.75,271.44 L150.00,270.53 L150.25,269.61 L150.50,268.72 L150.75,267.88 L151.00,267.13 L151.25,266.50 L151.50,266.01 L151.75,265.67 L152.00,265.51 L152.25,265.53 L152.50,265.73 L152.75,266.09 L153.00,266.61 L153.25,267.27 L153.50,268.04 L153.75,268.89 L154.00,269.80 L154.25,270.72 L154.50,271.62 L154.75,272.47 L155.00,273.24 L155.25,273.89 L155.50,274.41 L155.75,274.78 L156.00,275.00" fill="none" stroke="#a8385e" stroke-width="1.3" stroke-linejoin="round"/>
<path d="M95.75,275.00 L96.00,274.82 L96.25,274.46 L96.50,273.94 L96.75,273.26 L97.00,272.46 L97.25,271.56 L97.50,270.60 L97.75,269.61 L98.00,268.63 L98.25,267.70 L98.50,266.86 L98.75,266.13 L99.00,265.53 L99.25,265.11 L99.50,264.86 L99.75,264.80 L100.00,264.94 L100.25,265.26 L100.50,265.75 L100.75,266.40 L101.00,267.18 L101.25,268.07 L101.50,269.02 L101.75,270.00 L102.00,270.99 L102.25,271.93 L102.50,272.79 L102.75,273.55 L103.00,274.17 L103.25,274.63 L103.50,275.00" fill="none" stroke="#1c1c1c" stroke-width="1.3" stroke-linejoin="round"/>
<path d="M133.50,275.00 L133.75,274.65 L134.00,274.09 L134.25,273.28 L134.50,272.26 L134.75,271.06 L135.00,269.73 L135.25,268.33 L135.50,266.89 L135.75,265.48 L136.00,264.16 L136.25,262.96 L136.50,261.93 L136.75,261.12 L137.00,260.55 L137.25,260.25 L137.50,260.22 L137.75,260.47 L138.00,260.99 L138.25,261.75 L138.50,262.74 L138.75,263.90 L139.00,265.21 L139.25,266.61 L139.50,268.04 L139.75,269.46 L140.00,270.80 L140.25,272.03 L140.50,273.09 L140.75,273.94 L141.00,274.56 L141.25,275.00" fill="none" stroke="#1c1c1c" stroke-width="1.3" stroke-linejoin="round"/>
<path d="M141.50,275.00 L141.75,274.66 L142.00,274.32 L142.25,273.89 L142.50,273.38 L142.75,272.81 L143.00,272.19 L143.25,271.56 L143.50,270.94 L143.75,270.35 L144.00,269.81 L144.25,269.34 L144.50,268.97 L144.75,268.70 L145.00,268.54 L145.25,268.50 L145.50,268.59 L145.75,268.79 L146.00,269.11 L146.25,269.52 L146.50,270.02 L146.75,270.58 L147.00,271.19 L147.25,271.82 L147.50,272.44 L147.75,273.04 L148.00,273.59 L148.25,274.01 L148.50,274.12 L148.75,273.93 L149.00,273.43 L149.25,272.65 L149.50,271.68 L149.75,270.62 L150.00,269.50 L150.25,268.36 L150.50,267.26 L150.75,266.23 L151.00,265.31 L151.25,264.53 L151.50,263.92 L151.75,263.51 L152.00,263.32 L152.25,263.34 L152.50,263.58 L152.75,264.03 L153.00,264.67 L153.25,265.48 L153.50,266.43 L153.75,267.48 L154.00,268.59 L154.25,269.72 L154.50,270.84 L154.75,271.88 L155.00,272.83 L155.25,273.64 L155.50,274.27 L155.75,274.49 L156.00,274.16 L156.25,273.33 L156.50,272.19 L156.75,270.81 L157.00,269.25 L157.25,267.57 L157.50,265.84 L157.75,264.10 L158.00,262.44 L158.25,260.91 L158.50,259.58 L158.75,258.48 L159.00,257.67 L159.25,257.17 L159.50,257.00 L159.75,257.17 L160.00,257.67 L160.25,258.48 L160.50,259.58 L160.75,260.91 L161.00,262.44 L161.25,264.10 L161.50,265.84 L161.75,267.57 L162.00,269.25 L162.25,270.81 L162.50,272.19 L162.75,273.33 L163.00,274.16 L163.25,274.49 L163.50,274.27 L163.75,273.64 L164.00,272.83 L164.25,271.88 L164.50,270.84 L164.75,269.72 L165.00,268.59 L165.25,267.48 L165.50,266.43 L165.75,265.48 L166.00,264.67 L166.25,264.03 L166.50,263.58 L166.75,263.34 L167.00,263.32 L167.25,263.51 L167.50,263.92 L167.75,264.53 L168.00,265.31 L168.25,266.23 L168.50,267.26 L168.75,268.36 L169.00,269.50 L169.25,270.62 L169.50,271.68 L169.75,272.65 L170.00,273.49 L170.25,274.16 L170.50,274.65 L170.75,275.00" fill="none" stroke="#1c1c1c" stroke-width="1.3" stroke-linejoin="round"/>
<line x1="80.5" y1="307.10" x2="185.4" y2="307.10" stroke="#2a2a2a" stroke-width="1.1"/>
<path d="M174.25,307.10 L174.50,306.76 L174.75,306.49 L175.00,306.16 L175.25,305.77 L175.50,305.34 L175.75,304.87 L176.00,304.38 L176.25,303.89 L176.50,303.40 L176.75,302.94 L177.00,302.52 L177.25,302.14 L177.50,301.83 L177.75,301.58 L178.00,301.41 L178.25,301.32 L178.50,301.31 L178.75,301.38 L179.00,301.54 L179.25,301.77 L179.50,302.08 L179.75,302.44 L180.00,302.86 L180.25,303.31 L180.50,303.79 L180.75,304.28 L181.00,304.77 L181.25,305.24 L181.50,305.69 L181.75,306.09 L182.00,306.43 L182.25,306.71 L182.50,306.92 L182.75,307.10" fill="none" stroke="#6a9e58" stroke-width="1.3" stroke-linejoin="round"/>
<path d="M97.25,307.10 L97.50,306.86 L97.75,306.58 L98.00,306.20 L98.25,305.74 L98.50,305.20 L98.75,304.60 L99.00,303.97 L99.25,303.31 L99.50,302.65 L99.75,302.00 L100.00,301.39 L100.25,300.83 L100.50,300.34 L100.75,299.93 L101.00,299.62 L101.25,299.41 L101.50,299.31 L101.75,299.32 L102.00,299.44 L102.25,299.68 L102.50,300.01 L102.75,300.43 L103.00,300.94 L103.25,301.51 L103.50,302.06 L103.75,302.56 L104.00,302.98 L104.25,303.33 L104.50,303.58 L104.75,303.74 L105.00,303.79 L105.25,303.73 L105.50,303.58 L105.75,303.32 L106.00,302.97 L106.25,302.54 L106.50,302.12 L106.75,301.75 L107.00,301.44 L107.25,301.21 L107.50,301.06 L107.75,301.00 L108.00,301.03 L108.25,301.14 L108.50,301.34 L108.75,301.62 L109.00,301.96 L109.25,302.37 L109.50,302.82 L109.75,303.31 L110.00,303.83 L110.25,304.34 L110.50,304.85 L110.75,305.34 L111.00,305.77 L111.25,306.05 L111.50,306.14 L111.75,306.04 L112.00,305.75 L112.25,305.29 L112.50,304.67 L112.75,303.97 L113.00,303.23 L113.25,302.47 L113.50,301.72 L113.75,301.00 L114.00,300.32 L114.25,299.71 L114.50,299.19 L114.75,298.77 L115.00,298.46 L115.25,298.26 L115.50,298.20 L115.75,298.26 L116.00,298.46 L116.25,298.77 L116.50,299.19 L116.75,299.71 L117.00,300.32 L117.25,301.00 L117.50,301.72 L117.75,302.47 L118.00,303.23 L118.25,303.97 L118.50,304.67 L118.75,305.31 L119.00,305.88 L119.25,306.27 L119.50,306.41 L119.75,306.31 L120.00,305.96 L120.25,305.39 L120.50,304.71 L120.75,303.96 L121.00,303.17 L121.25,302.34 L121.50,301.51 L121.75,300.70 L122.00,299.93 L122.25,299.23 L122.50,298.61 L122.75,298.10 L123.00,297.70 L123.25,297.44 L123.50,297.31 L123.75,297.33 L124.00,297.48 L124.25,297.77 L124.50,298.19 L124.75,298.73 L125.00,299.36 L125.25,300.08 L125.50,300.86 L125.75,301.67 L126.00,302.50 L126.25,303.33 L126.50,304.12 L126.75,304.85 L127.00,305.40 L127.25,305.72 L127.50,305.79 L127.75,305.62 L128.00,305.21 L128.25,304.57 L128.50,303.81 L128.75,303.00 L129.00,302.17 L129.25,301.34 L129.50,300.54 L129.75,299.78 L130.00,299.10 L130.25,298.50 L130.50,298.01 L130.75,297.64 L131.00,297.40 L131.25,297.30 L131.50,297.35 L131.75,297.53 L132.00,297.85 L132.25,298.29 L132.50,298.84 L132.75,299.50 L133.00,300.23 L133.25,301.02 L133.50,301.84 L133.75,302.67 L134.00,303.38 L134.25,303.93 L134.50,304.29 L134.75,304.46 L135.00,304.43 L135.25,304.20 L135.50,303.78 L135.75,303.18 L136.00,302.42 L136.25,301.64 L136.50,300.87 L136.75,300.16 L137.00,299.50 L137.25,298.94 L137.50,298.47 L137.75,298.12 L138.00,297.90 L138.25,297.80 L138.50,297.84 L138.75,298.02 L139.00,298.32 L139.25,298.74 L139.50,299.27 L139.75,299.89 L140.00,300.58 L140.25,301.33 L140.50,302.11 L140.75,302.90 L141.00,303.67 L141.25,304.42 L141.50,305.10 L141.75,305.71 L142.00,306.22 L142.25,306.63 L142.50,306.91 L142.75,307.10" fill="none" stroke="#56648c" stroke-width="1.3" stroke-linejoin="round"/>
<path d="M166.50,307.10 L166.75,306.95 L167.00,306.74 L167.25,306.46 L167.50,306.11 L167.75,305.70 L168.00,305.24 L168.25,304.75 L168.50,304.24 L168.75,303.72 L169.00,303.21 L169.25,302.73 L169.50,302.28 L169.75,301.89 L170.00,301.55 L170.25,301.29 L170.50,301.11 L170.75,301.02 L171.00,301.01 L171.25,301.09 L171.50,301.25 L171.75,301.50 L172.00,301.82 L172.25,302.20 L172.50,302.64 L172.75,303.11 L173.00,303.62 L173.25,304.14 L173.50,304.65 L173.75,305.15 L174.00,305.61 L174.25,306.04 L174.50,306.40 L174.75,306.69 L175.00,306.91 L175.25,307.10" fill="none" stroke="#56648c" stroke-width="1.3" stroke-linejoin="round"/>
<path d="M181.75,307.10 L182.00,306.77 L182.25,306.46 L182.50,306.05 L182.75,305.57 L183.00,305.02 L183.25,304.42 L183.50,303.79 L183.75,303.15 L184.00,302.51 L184.25,301.89 L184.50,301.31 L184.75,300.79 L185.00,300.35 L185.25,299.98" fill="none" stroke="#56648c" stroke-width="1.3" stroke-linejoin="round"/>
<path d="M80.50,304.47 L80.75,304.77 L81.00,305.10 L81.25,305.45 L81.50,305.79 L81.75,306.13 L82.00,306.43 L82.25,306.69 L82.50,306.88 L82.75,306.83 L83.00,306.50 L83.25,305.89 L83.50,305.09 L83.75,304.12 L84.00,303.03 L84.25,301.85 L84.50,300.61 L84.75,299.37 L85.00,298.15 L85.25,297.01 L85.50,295.98 L85.75,295.09 L86.00,294.38 L86.25,293.87 L86.50,293.57 L86.75,293.50 L87.00,293.66 L87.25,294.05 L87.50,294.64 L87.75,295.43 L88.00,296.37 L88.25,297.45 L88.50,298.63 L88.75,299.86 L89.00,301.11 L89.25,302.33 L89.50,303.48 L89.75,304.53 L90.00,305.43 L90.25,306.16 L90.50,306.56 L90.75,306.53 L91.00,306.08 L91.25,305.36 L91.50,304.47 L91.75,303.46 L92.00,302.35 L92.25,301.18 L92.50,300.00 L92.75,298.84 L93.00,297.74 L93.25,296.74 L93.50,295.86 L93.75,295.16 L94.00,294.63 L94.25,294.31 L94.50,294.20 L94.75,294.31 L95.00,294.63 L95.25,295.16 L95.50,295.86 L95.75,296.74 L96.00,297.74 L96.25,298.84 L96.50,300.00 L96.75,301.18 L97.00,302.35 L97.25,303.46 L97.50,304.47 L97.75,305.36 L98.00,306.08 L98.25,306.63 L98.50,307.10" fill="none" stroke="#a8385e" stroke-width="1.3" stroke-linejoin="round"/>
<path d="M144.00,307.10 L144.25,306.85 L144.50,306.64 L144.75,306.37 L145.00,306.05 L145.25,305.69 L145.50,305.29 L145.75,304.89 L146.00,304.47 L146.25,304.06 L146.50,303.66 L146.75,303.30 L147.00,302.97 L147.25,302.69 L147.50,302.47 L147.75,302.31 L148.00,302.22 L148.25,302.20 L148.50,302.25 L148.75,302.37 L149.00,302.55 L149.25,302.80 L149.50,303.10 L149.75,303.44 L150.00,303.82 L150.25,304.22 L150.50,304.64 L150.75,305.05 L151.00,305.45 L151.25,305.83 L151.50,306.18 L151.75,306.48 L152.00,306.73 L152.25,306.92 L152.50,307.10" fill="none" stroke="#a8385e" stroke-width="1.3" stroke-linejoin="round"/>
<path d="M150.00,307.10 L150.25,306.84 L150.50,306.37 L150.75,305.69 L151.00,304.80 L151.25,303.74 L151.50,302.54 L151.75,301.22 L152.00,299.83 L152.25,298.42 L152.50,297.01 L152.75,295.65 L153.00,294.38 L153.25,293.24 L153.50,292.26 L153.75,291.46 L154.00,290.88 L154.25,290.52 L154.50,290.40 L154.75,290.52 L155.00,290.88 L155.25,291.46 L155.50,292.26 L155.75,293.24 L156.00,294.38 L156.25,295.65 L156.50,297.01 L156.75,298.42 L157.00,299.83 L157.25,301.22 L157.50,302.54 L157.75,303.74 L158.00,304.80 L158.25,305.69 L158.50,306.37 L158.75,306.84 L159.00,307.10" fill="none" stroke="#1c1c1c" stroke-width="1.3" stroke-linejoin="round"/>
<path d="M159.00,307.10 L159.25,306.88 L159.50,306.58 L159.75,306.17 L160.00,305.66 L160.25,305.06 L160.50,304.39 L160.75,303.67 L161.00,302.93 L161.25,302.17 L161.50,301.43 L161.75,300.72 L162.00,300.07 L162.25,299.49 L162.50,299.01 L162.75,298.63 L163.00,298.36 L163.25,298.22 L163.50,298.21 L163.75,298.33 L164.00,298.57 L164.25,298.92 L164.50,299.39 L164.75,299.95 L165.00,300.59 L165.25,301.28 L165.50,302.02 L165.75,302.78 L166.00,303.53 L166.25,304.25 L166.50,304.89 L166.75,305.36 L167.00,305.65 L167.25,305.75 L167.50,305.65 L167.75,305.35 L168.00,304.88 L168.25,304.29 L168.50,303.68 L168.75,303.06 L169.00,302.45 L169.25,301.87 L169.50,301.33 L169.75,300.86 L170.00,300.46 L170.25,300.15 L170.50,299.93 L170.75,299.82 L171.00,299.81 L171.25,299.90 L171.50,300.10 L171.75,300.39 L172.00,300.78 L172.25,301.23 L172.50,301.76 L172.75,302.33 L173.00,302.93 L173.25,303.55 L173.50,304.17 L173.75,304.76 L174.00,305.32 L174.25,305.83 L174.50,306.26 L174.75,306.61 L175.00,306.88 L175.25,307.10" fill="none" stroke="#1c1c1c" stroke-width="1.3" stroke-linejoin="round"/>
<line x1="80.5" y1="338.20" x2="185.4" y2="338.20" stroke="#2a2a2a" stroke-width="1.1"/>
<path d="M178.00,338.20 L178.25,337.89 L178.50,337.51 L178.75,336.98 L179.00,336.32 L179.25,335.58 L179.50,334.75 L179.75,333.89 L180.00,333.02 L180.25,332.17 L180.50,331.37 L180.75,330.65 L181.00,330.04 L181.25,329.55 L181.50,329.21 L181.75,329.03 L182.00,329.01 L182.25,329.16 L182.50,329.47 L182.75,329.93 L183.00,330.52 L183.25,331.22 L183.50,332.00 L183.75,332.85 L184.00,333.72 L184.25,334.58 L184.50,335.42 L184.75,336.18 L185.00,336.85 L185.25,337.41" fill="none" stroke="#6a9e58" stroke-width="1.3" stroke-linejoin="round"/>
<path d="M104.75,338.20 L105.00,337.83 L105.25,337.41 L105.50,336.85 L105.75,336.18 L106.00,335.42 L106.25,334.58 L106.50,333.72 L106.75,332.85 L107.00,332.00 L107.25,331.22 L107.50,330.52 L107.75,329.93 L108.00,329.47 L108.25,329.16 L108.50,329.01 L108.75,329.03 L109.00,329.21 L109.25,329.55 L109.50,330.04 L109.75,330.65 L110.00,331.37 L110.25,332.17 L110.50,333.02 L110.75,333.89 L111.00,334.75 L111.25,335.58 L111.50,336.32 L111.75,336.98 L112.00,337.48 L112.25,337.68 L112.50,337.56 L112.75,337.12 L113.00,336.46 L113.25,335.68 L113.50,334.82 L113.75,333.90 L114.00,332.95 L114.25,332.01 L114.50,331.11 L114.75,330.29 L115.00,329.58 L115.25,328.99 L115.50,328.56 L115.75,328.29 L116.00,328.20 L116.25,328.29 L116.50,328.56 L116.75,328.99 L117.00,329.58 L117.25,330.29 L117.50,331.11 L117.75,332.01 L118.00,332.95 L118.25,333.90 L118.50,334.82 L118.75,335.68 L119.00,336.46 L119.25,337.12 L119.50,337.63 L119.75,337.99 L120.00,338.20" fill="none" stroke="#56648c" stroke-width="1.3" stroke-linejoin="round"/>
<path d="M120.00,338.20 L120.25,337.88 L120.50,337.47 L120.75,336.91 L121.00,336.22 L121.25,335.43 L121.50,334.57 L121.75,333.66 L122.00,332.74 L122.25,331.84 L122.50,331.00 L122.75,330.24 L123.00,329.59 L123.25,329.08 L123.50,328.72 L123.75,328.53 L124.00,328.51 L124.25,328.67 L124.50,329.00 L124.75,329.48 L125.00,330.10 L125.25,330.84 L125.50,331.67 L125.75,332.56 L126.00,333.47 L126.25,334.39 L126.50,335.26 L126.75,336.07 L127.00,336.76 L127.25,337.19 L127.50,337.33 L127.75,337.17 L128.00,336.72 L128.25,336.06 L128.50,335.33 L128.75,334.54 L129.00,333.74 L129.25,332.94 L129.50,332.18 L129.75,331.48 L130.00,330.87 L130.25,330.37 L130.50,330.00 L130.75,329.78 L131.00,329.70 L131.25,329.78 L131.50,330.00 L131.75,330.37 L132.00,330.87 L132.25,331.48 L132.50,332.18 L132.75,332.94 L133.00,333.74 L133.25,334.54 L133.50,335.33 L133.75,336.06 L134.00,336.72 L134.25,337.28 L134.50,337.72 L134.75,338.02 L135.00,338.20" fill="none" stroke="#56648c" stroke-width="1.3" stroke-linejoin="round"/>
<path d="M171.25,338.20 L171.50,337.94 L171.75,337.56 L172.00,337.03 L172.25,336.37 L172.50,335.60 L172.75,334.74 L173.00,333.84 L173.25,332.92 L173.50,332.02 L173.75,331.16 L174.00,330.38 L174.25,329.71 L174.50,329.17 L174.75,328.78 L175.00,328.56 L175.25,328.50 L175.50,328.63 L175.75,328.92 L176.00,329.37 L176.25,329.96 L176.50,330.68 L176.75,331.50 L177.00,332.38 L177.25,333.29 L177.50,334.21 L177.75,335.09 L178.00,335.92 L178.25,336.65 L178.50,337.26 L178.75,337.73 L179.00,338.05 L179.25,338.20" fill="none" stroke="#56648c" stroke-width="1.3" stroke-linejoin="round"/>
<path d="M80.50,335.80 L80.75,335.98 L81.00,336.20 L81.25,336.43 L81.50,336.68 L81.75,336.94 L82.00,337.19 L82.25,337.30 L82.50,337.18 L82.75,336.85 L83.00,336.31 L83.25,335.59 L83.50,334.70 L83.75,333.68 L84.00,332.60 L84.25,331.51 L84.50,330.45 L84.75,329.47 L85.00,328.60 L85.25,327.86 L85.50,327.29 L85.75,326.90 L86.00,326.72 L86.25,326.74 L86.50,326.96 L86.75,327.39 L87.00,327.99 L87.25,328.76 L87.50,329.66 L87.75,330.66 L88.00,331.73 L88.25,332.82 L88.50,333.89 L88.75,334.92 L89.00,335.86 L89.25,336.67 L89.50,337.33 L89.75,337.69 L90.00,337.66 L90.25,337.24 L90.50,336.56 L90.75,335.74 L91.00,334.81 L91.25,333.80 L91.50,332.74 L91.75,331.68 L92.00,330.66 L92.25,329.70 L92.50,328.85 L92.75,328.13 L93.00,327.57 L93.25,327.20 L93.50,327.02 L93.75,327.04 L94.00,327.26 L94.25,327.67 L94.50,328.26 L94.75,329.01 L95.00,329.88 L95.25,330.86 L95.50,331.89 L95.75,332.96 L96.00,334.01 L96.25,335.00 L96.50,335.92 L96.75,336.71 L97.00,337.35 L97.25,337.83 L97.50,338.20" fill="none" stroke="#a8385e" stroke-width="1.3" stroke-linejoin="round"/>
<path d="M148.50,338.20 L148.75,337.99 L149.00,337.63 L149.25,337.12 L149.50,336.46 L149.75,335.68 L150.00,334.82 L150.25,333.90 L150.50,332.95 L150.75,332.01 L151.00,331.11 L151.25,330.29 L151.50,329.58 L151.75,328.99 L152.00,328.56 L152.25,328.29 L152.50,328.20 L152.75,328.29 L153.00,328.56 L153.25,328.99 L153.50,329.58 L153.75,330.29 L154.00,331.11 L154.25,332.01 L154.50,332.95 L154.75,333.90 L155.00,334.82 L155.25,335.68 L155.50,336.46 L155.75,337.12 L156.00,337.63 L156.25,337.99 L156.50,338.20" fill="none" stroke="#a8385e" stroke-width="1.3" stroke-linejoin="round"/>
<path d="M97.00,338.20 L97.25,337.97 L97.50,337.59 L97.75,337.03 L98.00,336.32 L98.25,335.48 L98.50,334.55 L98.75,333.55 L99.00,332.53 L99.25,331.51 L99.50,330.55 L99.75,329.66 L100.00,328.89 L100.25,328.25 L100.50,327.79 L100.75,327.50 L101.00,327.40 L101.25,327.50 L101.50,327.79 L101.75,328.25 L102.00,328.89 L102.25,329.66 L102.50,330.55 L102.75,331.51 L103.00,332.53 L103.25,333.55 L103.50,334.55 L103.75,335.48 L104.00,336.32 L104.25,337.03 L104.50,337.59 L104.75,337.97 L105.00,338.20" fill="none" stroke="#1c1c1c" stroke-width="1.3" stroke-linejoin="round"/>
<path d="M135.00,338.20 L135.25,338.01 L135.50,337.70 L135.75,337.24 L136.00,336.65 L136.25,335.96 L136.50,335.19 L136.75,334.37 L137.00,333.53 L137.25,332.69 L137.50,331.89 L137.75,331.16 L138.00,330.53 L138.25,330.00 L138.50,329.62 L138.75,329.38 L139.00,329.30 L139.25,329.38 L139.50,329.62 L139.75,330.00 L140.00,330.53 L140.25,331.16 L140.50,331.89 L140.75,332.69 L141.00,333.53 L141.25,334.37 L141.50,335.19 L141.75,335.85 L142.00,336.26 L142.25,336.40 L142.50,336.28 L142.75,335.88 L143.00,335.24 L143.25,334.39 L143.50,333.47 L143.75,332.56 L144.00,331.67 L144.25,330.84 L144.50,330.10 L144.75,329.48 L145.00,329.00 L145.25,328.67 L145.50,328.51 L145.75,328.53 L146.00,328.72 L146.25,329.08 L146.50,329.59 L146.75,330.24 L147.00,331.00 L147.25,331.84 L147.50,332.74 L147.75,333.66 L148.00,334.57 L148.25,335.43 L148.50,336.22 L148.75,336.91 L149.00,337.47 L149.25,337.88 L149.50,338.20" fill="none" stroke="#1c1c1c" stroke-width="1.3" stroke-linejoin="round"/>
<path d="M156.25,338.20 L156.50,337.88 L156.75,337.41 L157.00,336.75 L157.25,335.93 L157.50,334.98 L157.75,333.93 L158.00,332.81 L158.25,331.67 L158.50,330.55 L158.75,329.49 L159.00,328.53 L159.25,327.70 L159.50,327.03 L159.75,326.55 L160.00,326.27 L160.25,326.20 L160.50,326.36 L160.75,326.72 L161.00,327.28 L161.25,328.01 L161.50,328.90 L161.75,329.91 L162.00,330.99 L162.25,332.13 L162.50,333.26 L162.75,334.36 L163.00,335.38 L163.25,336.28 L163.50,337.04 L163.75,337.61 L164.00,337.81 L164.25,337.60 L164.50,337.01 L164.75,336.23 L165.00,335.31 L165.25,334.26 L165.50,333.14 L165.75,331.97 L166.00,330.81 L166.25,329.70 L166.50,328.67 L166.75,327.76 L167.00,327.00 L167.25,326.43 L167.50,326.06 L167.75,325.90 L168.00,325.97 L168.25,326.26 L168.50,326.75 L168.75,327.44 L169.00,328.29 L169.25,329.27 L169.50,330.36 L169.75,331.51 L170.00,332.67 L170.25,333.82 L170.50,334.90 L170.75,335.88 L171.00,336.72 L171.25,337.35 L171.50,337.65 L171.75,337.60 L172.00,337.21 L172.25,336.65 L172.50,336.00 L172.75,335.28 L173.00,334.52 L173.25,333.74 L173.50,332.97 L173.75,332.25 L174.00,331.59 L174.25,331.02 L174.50,330.57 L174.75,330.24 L175.00,330.05 L175.25,330.00 L175.50,330.11 L175.75,330.35 L176.00,330.74 L176.25,331.24 L176.50,331.84 L176.75,332.53 L177.00,333.28 L177.25,334.05 L177.50,334.82 L177.75,335.57 L178.00,336.27 L178.25,336.89 L178.50,337.41 L178.75,337.80 L179.00,338.20" fill="none" stroke="#1c1c1c" stroke-width="1.3" stroke-linejoin="round"/>
<line x1="80.5" y1="370.60" x2="185.4" y2="370.60" stroke="#2a2a2a" stroke-width="1.1"/>
<path d="M177.75,370.60 L178.00,370.35 L178.25,369.99 L178.50,369.48 L178.75,368.84 L179.00,368.10 L179.25,367.29 L179.50,366.42 L179.75,365.54 L180.00,364.67 L180.25,363.85 L180.50,363.10 L180.75,362.46 L181.00,361.94 L181.25,361.57 L181.50,361.35 L181.75,361.30 L182.00,361.42 L182.25,361.70 L182.50,362.13 L182.75,362.70 L183.00,363.39 L183.25,364.17 L183.50,365.02 L183.75,365.89 L184.00,366.77 L184.25,367.62 L184.50,368.41 L184.75,369.11 L185.00,369.70 L185.25,370.15" fill="none" stroke="#6a9e58" stroke-width="1.3" stroke-linejoin="round"/>
<path d="M103.50,370.60 L103.75,370.29 L104.00,369.90 L104.25,369.36 L104.50,368.70 L104.75,367.95 L105.00,367.12 L105.25,366.25 L105.50,365.36 L105.75,364.50 L106.00,363.69 L106.25,362.97 L106.50,362.35 L106.75,361.86 L107.00,361.51 L107.25,361.33 L107.50,361.31 L107.75,361.46 L108.00,361.78 L108.25,362.24 L108.50,362.83 L108.75,363.54 L109.00,364.34 L109.25,365.19 L109.50,366.07 L109.75,366.95 L110.00,367.79 L110.25,368.56 L110.50,369.24 L110.75,369.80 L111.00,370.22 L111.25,370.38 L111.50,370.19 L111.75,369.73 L112.00,369.12 L112.25,368.38 L112.50,367.54 L112.75,366.63 L113.00,365.68 L113.25,364.72 L113.50,363.80 L113.75,362.93 L114.00,362.17 L114.25,361.52 L114.50,361.02 L114.75,360.68 L115.00,360.51 L115.25,360.53 L115.50,360.73 L115.75,361.10 L116.00,361.64 L116.25,362.31 L116.50,363.10 L116.75,363.98 L117.00,364.91 L117.25,365.87 L117.50,366.82 L117.75,367.72 L118.00,368.54 L118.25,369.26 L118.50,369.76 L118.75,369.93 L119.00,369.76 L119.25,369.26 L119.50,368.54 L119.75,367.72 L120.00,366.82 L120.25,365.87 L120.50,364.91 L120.75,363.98 L121.00,363.10 L121.25,362.31 L121.50,361.64 L121.75,361.10 L122.00,360.73 L122.25,360.53 L122.50,360.51 L122.75,360.68 L123.00,361.02 L123.25,361.52 L123.50,362.17 L123.75,362.93 L124.00,363.80 L124.25,364.72 L124.50,365.68 L124.75,366.63 L125.00,367.54 L125.25,368.38 L125.50,369.12 L125.75,369.69 L126.00,369.96 L126.25,369.92 L126.50,369.57 L126.75,369.00 L127.00,368.32 L127.25,367.57 L127.50,366.78 L127.75,365.97 L128.00,365.18 L128.25,364.43 L128.50,363.75 L128.75,363.16 L129.00,362.69 L129.25,362.35 L129.50,362.15 L129.75,362.10 L130.00,362.21 L130.25,362.47 L130.50,362.86 L130.75,363.38 L131.00,364.01 L131.25,364.72 L131.50,365.50 L131.75,366.30 L132.00,367.10 L132.25,367.88 L132.50,368.60 L132.75,369.24 L133.00,369.78 L133.25,370.19 L133.50,370.60" fill="none" stroke="#56648c" stroke-width="1.3" stroke-linejoin="round"/>
<path d="M170.50,370.60 L170.75,370.25 L171.00,369.81 L171.25,369.22 L171.50,368.48 L171.75,367.63 L172.00,366.71 L172.25,365.73 L172.50,364.74 L172.75,363.78 L173.00,362.88 L173.25,362.06 L173.50,361.37 L173.75,360.82 L174.00,360.44 L174.25,360.23 L174.50,360.22 L174.75,360.38 L175.00,360.73 L175.25,361.25 L175.50,361.91 L175.75,362.71 L176.00,363.60 L176.25,364.55 L176.50,365.53 L176.75,366.51 L177.00,367.45 L177.25,368.32 L177.50,369.08 L177.75,369.71 L178.00,370.18 L178.25,370.60" fill="none" stroke="#56648c" stroke-width="1.3" stroke-linejoin="round"/>
<path d="M81.25,370.60 L81.50,370.30 L81.75,369.86 L82.00,369.25 L82.25,368.49 L82.50,367.59 L82.75,366.61 L83.00,365.57 L83.25,364.51 L83.50,363.46 L83.75,362.47 L84.00,361.57 L84.25,360.80 L84.50,360.17 L84.75,359.72 L85.00,359.46 L85.25,359.40 L85.50,359.55 L85.75,359.88 L86.00,360.40 L86.25,361.09 L86.50,361.92 L86.75,362.86 L87.00,363.87 L87.25,364.93 L87.50,365.99 L87.75,367.01 L88.00,367.96 L88.25,368.81 L88.50,369.52 L88.75,370.05 L89.00,370.24 L89.25,370.05 L89.50,369.52 L89.75,368.81 L90.00,367.96 L90.25,367.01 L90.50,365.99 L90.75,364.93 L91.00,363.87 L91.25,362.86 L91.50,361.92 L91.75,361.09 L92.00,360.40 L92.25,359.88 L92.50,359.55 L92.75,359.40 L93.00,359.46 L93.25,359.72 L93.50,360.17 L93.75,360.80 L94.00,361.57 L94.25,362.47 L94.50,363.46 L94.75,364.51 L95.00,365.57 L95.25,366.61 L95.50,367.59 L95.75,368.49 L96.00,369.25 L96.25,369.86 L96.50,370.30 L96.75,370.60" fill="none" stroke="#a8385e" stroke-width="1.3" stroke-linejoin="round"/>
<path d="M147.75,370.60 L148.00,370.37 L148.25,370.03 L148.50,369.55 L148.75,368.96 L149.00,368.27 L149.25,367.50 L149.50,366.69 L149.75,365.87 L150.00,365.05 L150.25,364.29 L150.50,363.59 L150.75,362.99 L151.00,362.50 L151.25,362.15 L151.50,361.95 L151.75,361.90 L152.00,362.01 L152.25,362.27 L152.50,362.68 L152.75,363.21 L153.00,363.86 L153.25,364.59 L153.50,365.38 L153.75,366.20 L154.00,367.02 L154.25,367.81 L154.50,368.55 L154.75,369.21 L155.00,369.76 L155.25,370.18 L155.50,370.60" fill="none" stroke="#a8385e" stroke-width="1.3" stroke-linejoin="round"/>
<path d="M96.25,370.60 L96.50,370.13 L96.75,369.60 L97.00,368.90 L97.25,368.05 L97.50,367.09 L97.75,366.04 L98.00,364.95 L98.25,363.85 L98.50,362.79 L98.75,361.80 L99.00,360.91 L99.25,360.17 L99.50,359.59 L99.75,359.20 L100.00,359.02 L100.25,359.04 L100.50,359.27 L100.75,359.69 L101.00,360.31 L101.25,361.08 L101.50,361.99 L101.75,363.00 L102.00,364.07 L102.25,365.17 L102.50,366.26 L102.75,367.29 L103.00,368.23 L103.25,369.06 L103.50,369.72 L103.75,370.21 L104.00,370.60" fill="none" stroke="#1c1c1c" stroke-width="1.3" stroke-linejoin="round"/>
<path d="M133.00,370.60 L133.25,370.29 L133.50,369.90 L133.75,369.36 L134.00,368.70 L134.25,367.95 L134.50,367.12 L134.75,366.25 L135.00,365.36 L135.25,364.50 L135.50,363.69 L135.75,362.97 L136.00,362.35 L136.25,361.86 L136.50,361.51 L136.75,361.33 L137.00,361.31 L137.25,361.46 L137.50,361.78 L137.75,362.24 L138.00,362.83 L138.25,363.54 L138.50,364.34 L138.75,365.19 L139.00,366.07 L139.25,366.95 L139.50,367.79 L139.75,368.56 L140.00,369.24 L140.25,369.80 L140.50,370.15 L140.75,370.16 L141.00,369.84 L141.25,369.26 L141.50,368.54 L141.75,367.72 L142.00,366.82 L142.25,365.87 L142.50,364.91 L142.75,363.98 L143.00,363.10 L143.25,362.31 L143.50,361.64 L143.75,361.10 L144.00,360.73 L144.25,360.53 L144.50,360.51 L144.75,360.68 L145.00,361.02 L145.25,361.52 L145.50,362.17 L145.75,362.93 L146.00,363.80 L146.25,364.72 L146.50,365.68 L146.75,366.63 L147.00,367.54 L147.25,368.38 L147.50,369.12 L147.75,369.73 L148.00,370.19 L148.25,370.60" fill="none" stroke="#1c1c1c" stroke-width="1.3" stroke-linejoin="round"/>
<path d="M155.50,370.60 L155.75,370.16 L156.00,369.60 L156.25,368.83 L156.50,367.89 L156.75,366.81 L157.00,365.62 L157.25,364.37 L157.50,363.11 L157.75,361.88 L158.00,360.72 L158.25,359.68 L158.50,358.80 L158.75,358.10 L159.00,357.61 L159.25,357.34 L159.50,357.32 L159.75,357.53 L160.00,357.98 L160.25,358.64 L160.50,359.49 L160.75,360.51 L161.00,361.64 L161.25,362.86 L161.50,364.12 L161.75,365.37 L162.00,366.57 L162.25,367.68 L162.50,368.65 L162.75,369.46 L163.00,369.95 L163.25,369.98 L163.50,369.55 L163.75,368.75 L164.00,367.77 L164.25,366.63 L164.50,365.39 L164.75,364.09 L165.00,362.77 L165.25,361.49 L165.50,360.28 L165.75,359.19 L166.00,358.26 L166.25,357.53 L166.50,357.02 L166.75,356.75 L167.00,356.72 L167.25,356.94 L167.50,357.41 L167.75,358.10 L168.00,358.99 L168.25,360.05 L168.50,361.24 L168.75,362.51 L169.00,363.83 L169.25,365.14 L169.50,366.39 L169.75,367.55 L170.00,368.57 L170.25,369.41 L170.50,369.97 L170.75,370.14 L171.00,369.91 L171.25,369.39 L171.50,368.74 L171.75,368.00 L172.00,367.19 L172.25,366.34 L172.50,365.48 L172.75,364.63 L173.00,363.84 L173.25,363.13 L173.50,362.52 L173.75,362.04 L174.00,361.71 L174.25,361.53 L174.50,361.51 L174.75,361.66 L175.00,361.97 L175.25,362.42 L175.50,363.00 L175.75,363.69 L176.00,364.47 L176.25,365.31 L176.50,366.17 L176.75,367.02 L177.00,367.85 L177.25,368.60 L177.50,369.27 L177.75,369.82 L178.00,370.23 L178.25,370.60" fill="none" stroke="#1c1c1c" stroke-width="1.3" stroke-linejoin="round"/>
<line x1="80.5" y1="401.20" x2="185.4" y2="401.20" stroke="#2a2a2a" stroke-width="1.1"/>
<path d="M178.00,401.20 L178.25,400.89 L178.50,400.51 L178.75,399.98 L179.00,399.32 L179.25,398.58 L179.50,397.75 L179.75,396.89 L180.00,396.02 L180.25,395.17 L180.50,394.37 L180.75,393.65 L181.00,393.04 L181.25,392.55 L181.50,392.21 L181.75,392.03 L182.00,392.01 L182.25,392.16 L182.50,392.47 L182.75,392.93 L183.00,393.52 L183.25,394.22 L183.50,395.00 L183.75,395.85 L184.00,396.72 L184.25,397.58 L184.50,398.42 L184.75,399.18 L185.00,399.85 L185.25,400.41" fill="none" stroke="#6a9e58" stroke-width="1.3" stroke-linejoin="round"/>
<path d="M104.00,401.20 L104.25,400.78 L104.50,400.36 L104.75,399.81 L105.00,399.15 L105.25,398.41 L105.50,397.62 L105.75,396.80 L106.00,395.98 L106.25,395.19 L106.50,394.46 L106.75,393.81 L107.00,393.28 L107.25,392.87 L107.50,392.61 L107.75,392.50 L108.00,392.55 L108.25,392.75 L108.50,393.10 L108.75,393.59 L109.00,394.19 L109.25,394.89 L109.50,395.65 L109.75,396.47 L110.00,397.29 L110.25,398.10 L110.50,398.87 L110.75,399.56 L111.00,400.15 L111.25,400.52 L111.50,400.58 L111.75,400.34 L112.00,399.81 L112.25,399.12 L112.50,398.32 L112.75,397.47 L113.00,396.57 L113.25,395.67 L113.50,394.80 L113.75,393.99 L114.00,393.27 L114.25,392.66 L114.50,392.19 L114.75,391.87 L115.00,391.71 L115.25,391.73 L115.50,391.92 L115.75,392.27 L116.00,392.77 L116.25,393.40 L116.50,394.15 L116.75,394.97 L117.00,395.85 L117.25,396.75 L117.50,397.64 L117.75,398.49 L118.00,399.26 L118.25,399.94 L118.50,400.41 L118.75,400.57 L119.00,400.41 L119.25,399.94 L119.50,399.26 L119.75,398.49 L120.00,397.64 L120.25,396.75 L120.50,395.85 L120.75,394.97 L121.00,394.15 L121.25,393.40 L121.50,392.77 L121.75,392.27 L122.00,391.92 L122.25,391.73 L122.50,391.71 L122.75,391.87 L123.00,392.19 L123.25,392.66 L123.50,393.27 L123.75,393.99 L124.00,394.80 L124.25,395.67 L124.50,396.57 L124.75,397.47 L125.00,398.32 L125.25,399.12 L125.50,399.81 L125.75,400.35 L126.00,400.60 L126.25,400.56 L126.50,400.22 L126.75,399.67 L127.00,399.03 L127.25,398.31 L127.50,397.56 L127.75,396.79 L128.00,396.04 L128.25,395.32 L128.50,394.67 L128.75,394.11 L129.00,393.66 L129.25,393.33 L129.50,393.15 L129.75,393.10 L130.00,393.20 L130.25,393.45 L130.50,393.83 L130.75,394.32 L131.00,394.92 L131.25,395.60 L131.50,396.34 L131.75,397.10 L132.00,397.87 L132.25,398.61 L132.50,399.29 L132.75,399.90 L133.00,400.42 L133.25,400.81 L133.50,401.20" fill="none" stroke="#56648c" stroke-width="1.3" stroke-linejoin="round"/>
<path d="M170.50,401.20 L170.75,400.88 L171.00,400.48 L171.25,399.94 L171.50,399.26 L171.75,398.49 L172.00,397.64 L172.25,396.75 L172.50,395.85 L172.75,394.97 L173.00,394.15 L173.25,393.40 L173.50,392.77 L173.75,392.27 L174.00,391.92 L174.25,391.73 L174.50,391.71 L174.75,391.87 L175.00,392.19 L175.25,392.66 L175.50,393.27 L175.75,393.99 L176.00,394.80 L176.25,395.67 L176.50,396.57 L176.75,397.47 L177.00,398.32 L177.25,399.12 L177.50,399.81 L177.75,400.38 L178.00,400.82 L178.25,401.20" fill="none" stroke="#56648c" stroke-width="1.3" stroke-linejoin="round"/>
<path d="M81.25,401.20 L81.50,400.98 L81.75,400.67 L82.00,400.22 L82.25,399.67 L82.50,399.03 L82.75,398.31 L83.00,397.56 L83.25,396.79 L83.50,396.04 L83.75,395.32 L84.00,394.67 L84.25,394.11 L84.50,393.66 L84.75,393.33 L85.00,393.15 L85.25,393.10 L85.50,393.20 L85.75,393.45 L86.00,393.83 L86.25,394.32 L86.50,394.92 L86.75,395.60 L87.00,396.34 L87.25,397.10 L87.50,397.87 L87.75,398.61 L88.00,399.29 L88.25,399.90 L88.50,400.35 L88.75,400.53 L89.00,400.44 L89.25,400.07 L89.50,399.49 L89.75,398.80 L90.00,398.05 L90.25,397.27 L90.50,396.47 L90.75,395.69 L91.00,394.96 L91.25,394.31 L91.50,393.75 L91.75,393.30 L92.00,392.99 L92.25,392.83 L92.50,392.81 L92.75,392.95 L93.00,393.23 L93.25,393.65 L93.50,394.18 L93.75,394.82 L94.00,395.54 L94.25,396.31 L94.50,397.11 L94.75,397.90 L95.00,398.66 L95.25,399.36 L95.50,399.97 L95.75,400.48 L96.00,400.86 L96.25,401.20" fill="none" stroke="#a8385e" stroke-width="1.3" stroke-linejoin="round"/>
<path d="M148.25,401.20 L148.50,400.93 L148.75,400.62 L149.00,400.22 L149.25,399.73 L149.50,399.17 L149.75,398.57 L150.00,397.94 L150.25,397.30 L150.50,396.69 L150.75,396.11 L151.00,395.60 L151.25,395.18 L151.50,394.84 L151.75,394.62 L152.00,394.51 L152.25,394.52 L152.50,394.65 L152.75,394.90 L153.00,395.25 L153.25,395.70 L153.50,396.22 L153.75,396.81 L154.00,397.43 L154.25,398.06 L154.50,398.69 L154.75,399.29 L155.00,399.83 L155.25,400.31 L155.50,400.69 L155.75,400.98 L156.00,401.20" fill="none" stroke="#a8385e" stroke-width="1.3" stroke-linejoin="round"/>
<path d="M95.75,401.20 L96.00,400.91 L96.25,400.50 L96.50,399.91 L96.75,399.18 L97.00,398.33 L97.25,397.39 L97.50,396.39 L97.75,395.38 L98.00,394.38 L98.25,393.43 L98.50,392.58 L98.75,391.84 L99.00,391.24 L99.25,390.81 L99.50,390.56 L99.75,390.50 L100.00,390.64 L100.25,390.96 L100.50,391.46 L100.75,392.12 L101.00,392.91 L101.25,393.80 L101.50,394.77 L101.75,395.78 L102.00,396.80 L102.25,397.77 L102.50,398.68 L102.75,399.49 L103.00,400.16 L103.25,400.68 L103.50,401.03 L103.75,401.20" fill="none" stroke="#1c1c1c" stroke-width="1.3" stroke-linejoin="round"/>
<path d="M133.25,401.20 L133.50,400.97 L133.75,400.63 L134.00,400.15 L134.25,399.56 L134.50,398.87 L134.75,398.10 L135.00,397.29 L135.25,396.47 L135.50,395.65 L135.75,394.89 L136.00,394.19 L136.25,393.59 L136.50,393.10 L136.75,392.75 L137.00,392.55 L137.25,392.50 L137.50,392.61 L137.75,392.87 L138.00,393.28 L138.25,393.81 L138.50,394.46 L138.75,395.19 L139.00,395.98 L139.25,396.80 L139.50,397.62 L139.75,398.41 L140.00,399.15 L140.25,399.81 L140.50,400.36 L140.75,400.77 L141.00,400.91 L141.25,400.73 L141.50,400.28 L141.75,399.68 L142.00,398.96 L142.25,398.16 L142.50,397.29 L142.75,396.39 L143.00,395.50 L143.25,394.63 L143.50,393.84 L143.75,393.13 L144.00,392.55 L144.25,392.11 L144.50,391.82 L144.75,391.70 L145.00,391.75 L145.25,391.98 L145.50,392.36 L145.75,392.89 L146.00,393.54 L146.25,394.31 L146.50,395.14 L146.75,396.03 L147.00,396.93 L147.25,397.82 L147.50,398.65 L147.75,399.41 L148.00,400.06 L148.25,400.57 L148.50,400.95 L148.75,401.20" fill="none" stroke="#1c1c1c" stroke-width="1.3" stroke-linejoin="round"/>
<path d="M155.75,401.20 L156.00,401.01 L156.25,400.61 L156.50,400.02 L156.75,399.25 L157.00,398.33 L157.25,397.29 L157.50,396.18 L157.75,395.02 L158.00,393.87 L158.25,392.77 L158.50,391.74 L158.75,390.84 L159.00,390.09 L159.25,389.53 L159.50,389.16 L159.75,389.00 L160.00,389.07 L160.25,389.35 L160.50,389.84 L160.75,390.52 L161.00,391.37 L161.25,392.35 L161.50,393.42 L161.75,394.56 L162.00,395.72 L162.25,396.85 L162.50,397.93 L162.75,398.90 L163.00,399.73 L163.25,400.24 L163.50,400.34 L163.75,400.00 L164.00,399.25 L164.25,398.28 L164.50,397.17 L164.75,395.97 L165.00,394.72 L165.25,393.46 L165.50,392.24 L165.75,391.11 L166.00,390.09 L166.25,389.24 L166.50,388.58 L166.75,388.13 L167.00,387.92 L167.25,387.94 L167.50,388.21 L167.75,388.70 L168.00,389.40 L168.25,390.28 L168.50,391.32 L168.75,392.48 L169.00,393.71 L169.25,394.97 L169.50,396.22 L169.75,397.41 L170.00,398.49 L170.25,399.43 L170.50,400.13 L170.75,400.48 L171.00,400.48 L171.25,400.11 L171.50,399.53 L171.75,398.86 L172.00,398.13 L172.25,397.36 L172.50,396.58 L172.75,395.82 L173.00,395.11 L173.25,394.47 L173.50,393.92 L173.75,393.49 L174.00,393.19 L174.25,393.03 L174.50,393.01 L174.75,393.14 L175.00,393.42 L175.25,393.83 L175.50,394.35 L175.75,394.98 L176.00,395.68 L176.25,396.43 L176.50,397.21 L176.75,397.98 L177.00,398.72 L177.25,399.40 L177.50,400.00 L177.75,400.50 L178.00,400.87 L178.25,401.20" fill="none" stroke="#1c1c1c" stroke-width="1.3" stroke-linejoin="round"/>
<text class="t" transform="translate(276.7,229.8) scale(0.9,1)" font-size="12.3" font-weight="bold" fill="#111">D</text>
<text class="t" transform="translate(337.6,269.3) rotate(-45)" font-size="8.3" fill="#1a1a1a">CyN-AML</text>
<text class="t" transform="translate(362.3,269.0) rotate(-45)" font-size="8.3" fill="#1a1a1a">Control</text>
<text x="322.00" y="291.30" font-size="8.30" text-anchor="end" font-weight="normal" fill="#1a1a1a" stroke="#1a1a1a" stroke-width="0.28" >ELANE</text>
<text x="322.00" y="312.80" font-size="8.30" text-anchor="end" font-weight="normal" fill="#1a1a1a" stroke="#1a1a1a" stroke-width="0.28" >β-actin</text>
<defs><filter id="bl" x="-50%" y="-50%" width="200%" height="200%"><feGaussianBlur stdDeviation="0.9"/></filter><filter id="bl2" x="-50%" y="-50%" width="200%" height="200%"><feGaussianBlur stdDeviation="1.6"/></filter></defs>
<rect x="328.1" y="276.9" width="43.6" height="21.6" fill="#dadada"/>
<rect x="328.1" y="301.2" width="43.6" height="16.9" fill="#d9d9d9"/>
<rect x="330" y="279" width="18" height="18" fill="#d0d0d0" filter="url(#bl2)"/>
<rect x="330.5" y="284.6" width="18" height="6.4" rx="3" fill="#b0b0b0" filter="url(#bl2)"/>
<rect x="353.8" y="285.1" width="15" height="5.2" rx="2.5" fill="#555" filter="url(#bl)"/>
<rect x="334.5" y="306.9" width="15" height="6.4" rx="3" fill="#0a0a0a" filter="url(#bl)"/>
<rect x="352.6" y="307.5" width="13.4" height="4.4" rx="2" fill="#111" filter="url(#bl)"/>
</svg>
<div class="frame"></div>
</body></html>
